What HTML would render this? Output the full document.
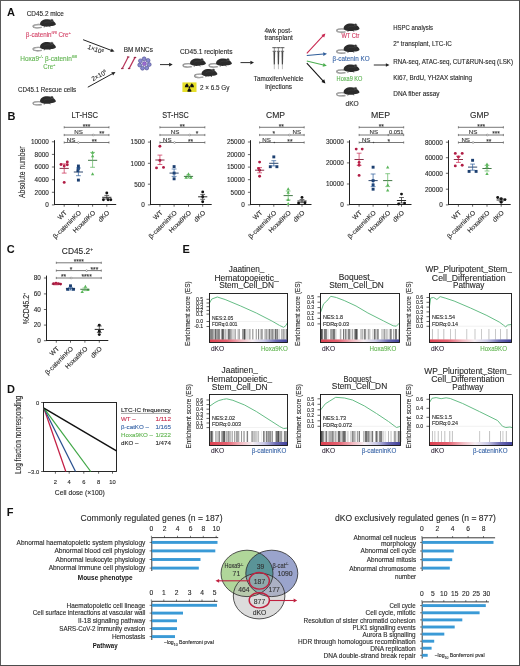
<!DOCTYPE html>
<html><head><meta charset="utf-8"><title>Figure</title><style>html,body{margin:0;padding:0;background:#fff;width:520px;height:666px;overflow:hidden}svg{display:block;will-change:transform}text{font-family:"Liberation Sans",sans-serif}</style></head><body>
<svg width="520" height="666" viewBox="0 0 520 666" font-family="Liberation Sans, sans-serif">
<defs><linearGradient id="gcb" x1="0" x2="1" y1="0" y2="0"><stop offset="0" stop-color="#dc4050"/><stop offset="0.22" stop-color="#e46070"/><stop offset="0.4" stop-color="#f2b8c0"/><stop offset="0.55" stop-color="#f6eef2"/><stop offset="0.7" stop-color="#c8c8e6"/><stop offset="0.85" stop-color="#6c6cb4"/><stop offset="1" stop-color="#40409a"/></linearGradient></defs>
<rect width="520" height="666" fill="#fff"/>
<text x="7" y="15.9" font-size="11" fill="#111" font-weight="bold">A</text>
<text x="26.7" y="15.6" font-size="6.4" fill="#2a2a2a" textLength="37.1" lengthAdjust="spacingAndGlyphs" stroke="#2a2a2a" stroke-width="0.12">CD45.2 mice</text>
<g transform="translate(48.2 23.1) scale(1)">
<path d="M-7.2 1.6 C-11 1.0 -15.6 1.8 -15.1 3.4 C-14.6 4.9 -10 5.1 -6.4 4.3" fill="none" stroke="#777" stroke-width="1.3"/>
<path d="M-7.2 1.6 C-11 1.0 -15.6 1.8 -15.1 3.4 C-14.6 4.9 -10 5.1 -6.4 4.3" fill="none" stroke="#ddd" stroke-width="0.5"/>
<path d="M-8 1.7 C-8.9 -2.3 -4.4 -4.1 -0.6 -3.9 C2.6 -3.8 4.6 -2.9 6 -1.4 C7 -0.4 7.9 0.6 7.7 1.4 C6.6 2.5 4.3 2.8 2.6 3.0 C0.2 3.9 -5 4.1 -8 1.7 Z" fill="#2b2b2b"/>
<ellipse cx="3.7" cy="-2.7" rx="1.35" ry="1.15" fill="#333" stroke="#6a6a6a" stroke-width="0.4"/>
<path d="M-4 0 C-2 -1.5 1 -1.6 3 -0.5" fill="none" stroke="#444" stroke-width="0.5"/>
<path d="M-3.5 3.2 L-4 4.3 M1.5 3.0 L2 4.1" stroke="#2b2b2b" stroke-width="0.8"/>
</g>
<text x="25.8" y="37.0" font-size="6.4" fill="#d5476a" textLength="45.1" lengthAdjust="spacingAndGlyphs" stroke="#d5476a" stroke-width="0.12">&#946;-catenin<tspan font-size="4.2" dy="-3.0">fl/fl</tspan><tspan dy="3.0"> Cre</tspan><tspan font-size="4.2" dy="-3.0">+</tspan></text>
<g transform="translate(48.2 46) scale(1)">
<path d="M-7.2 1.6 C-11 1.0 -15.6 1.8 -15.1 3.4 C-14.6 4.9 -10 5.1 -6.4 4.3" fill="none" stroke="#777" stroke-width="1.3"/>
<path d="M-7.2 1.6 C-11 1.0 -15.6 1.8 -15.1 3.4 C-14.6 4.9 -10 5.1 -6.4 4.3" fill="none" stroke="#ddd" stroke-width="0.5"/>
<path d="M-8 1.7 C-8.9 -2.3 -4.4 -4.1 -0.6 -3.9 C2.6 -3.8 4.6 -2.9 6 -1.4 C7 -0.4 7.9 0.6 7.7 1.4 C6.6 2.5 4.3 2.8 2.6 3.0 C0.2 3.9 -5 4.1 -8 1.7 Z" fill="#2b2b2b"/>
<ellipse cx="3.7" cy="-2.7" rx="1.35" ry="1.15" fill="#333" stroke="#6a6a6a" stroke-width="0.4"/>
<path d="M-4 0 C-2 -1.5 1 -1.6 3 -0.5" fill="none" stroke="#444" stroke-width="0.5"/>
<path d="M-3.5 3.2 L-4 4.3 M1.5 3.0 L2 4.1" stroke="#2b2b2b" stroke-width="0.8"/>
</g>
<text x="20.3" y="60.9" font-size="6.4" fill="#62b552" textLength="56.9" lengthAdjust="spacingAndGlyphs" stroke="#62b552" stroke-width="0.12">Hoxa9<tspan font-size="4.2" dy="-3.0">-/-</tspan><tspan dy="3.0"> &#946;-catenin</tspan><tspan font-size="4.2" dy="-3.0">fl/fl</tspan></text>
<text x="43.3" y="68.6" font-size="6.4" fill="#62b552" textLength="12.1" lengthAdjust="spacingAndGlyphs" stroke="#62b552" stroke-width="0.12">Cre<tspan font-size="4.2" dy="-3.0">+</tspan></text>
<text x="18" y="92.4" font-size="6.4" fill="#2a2a2a" textLength="58.2" lengthAdjust="spacingAndGlyphs" stroke="#2a2a2a" stroke-width="0.12">CD45.1 Rescue cells</text>
<g transform="translate(48.2 100.2) scale(1)">
<path d="M-7.2 1.6 C-11 1.0 -15.6 1.8 -15.1 3.4 C-14.6 4.9 -10 5.1 -6.4 4.3" fill="none" stroke="#777" stroke-width="1.3"/>
<path d="M-7.2 1.6 C-11 1.0 -15.6 1.8 -15.1 3.4 C-14.6 4.9 -10 5.1 -6.4 4.3" fill="none" stroke="#ddd" stroke-width="0.5"/>
<path d="M-8 1.7 C-8.9 -2.3 -4.4 -4.1 -0.6 -3.9 C2.6 -3.8 4.6 -2.9 6 -1.4 C7 -0.4 7.9 0.6 7.7 1.4 C6.6 2.5 4.3 2.8 2.6 3.0 C0.2 3.9 -5 4.1 -8 1.7 Z" fill="#2b2b2b"/>
<ellipse cx="3.7" cy="-2.7" rx="1.35" ry="1.15" fill="#333" stroke="#6a6a6a" stroke-width="0.4"/>
<path d="M-4 0 C-2 -1.5 1 -1.6 3 -0.5" fill="none" stroke="#444" stroke-width="0.5"/>
<path d="M-3.5 3.2 L-4 4.3 M1.5 3.0 L2 4.1" stroke="#2b2b2b" stroke-width="0.8"/>
</g>
<line x1="83.1" y1="39.7" x2="111.23" y2="50.36" stroke="#222" stroke-width="1"/>
<path d="M114.5 51.6L110.27 52.03L111.62 48.48Z" fill="#222"/>
<text x="94.8" y="51.4" font-size="6.3" fill="#2a2a2a" text-anchor="middle" transform="rotate(21 94.8 51.4)" stroke="#2a2a2a" stroke-width="0.12">1&#215;10<tspan font-size="3.8" dy="-2.4">6</tspan></text>
<line x1="87.8" y1="87.2" x2="112.43" y2="73.68" stroke="#222" stroke-width="1"/>
<path d="M115.5 72L113.08 75.49L111.25 72.16Z" fill="#222"/>
<text x="100.2" y="77.4" font-size="6.3" fill="#2a2a2a" text-anchor="middle" transform="rotate(-28.7 100.2 77.4)" stroke="#2a2a2a" stroke-width="0.12">2&#215;10<tspan font-size="3.8" dy="-2.4">6</tspan></text>
<text x="123.7" y="52.1" font-size="6.4" fill="#2a2a2a" textLength="29.3" lengthAdjust="spacingAndGlyphs" stroke="#2a2a2a" stroke-width="0.12">BM MNCs</text>
<line x1="122.3" y1="68.6" x2="128.2" y2="57" stroke="#b8345a" stroke-width="1.2"/>
<circle cx="121.75" cy="68.6" r="0.75" fill="#9a2a4a"/>
<circle cx="122.85" cy="68.6" r="0.75" fill="#9a2a4a"/>
<circle cx="127.65" cy="57" r="0.75" fill="#9a2a4a"/>
<circle cx="128.75" cy="57" r="0.75" fill="#9a2a4a"/>
<line x1="129.1" y1="68.6" x2="135" y2="57.4" stroke="#b8345a" stroke-width="1.2"/>
<circle cx="128.55" cy="68.6" r="0.75" fill="#9a2a4a"/>
<circle cx="129.65" cy="68.6" r="0.75" fill="#9a2a4a"/>
<circle cx="134.45" cy="57.4" r="0.75" fill="#9a2a4a"/>
<circle cx="135.55" cy="57.4" r="0.75" fill="#9a2a4a"/>
<circle cx="149.23" cy="64.55" r="1.95" fill="#8a8ad0" stroke="#4a4a8c" stroke-width="0.6"/>
<circle cx="146.74" cy="68" r="1.95" fill="#8a8ad0" stroke="#4a4a8c" stroke-width="0.6"/>
<circle cx="142.5" cy="68.22" r="1.95" fill="#8a8ad0" stroke="#4a4a8c" stroke-width="0.6"/>
<circle cx="139.68" cy="65.03" r="1.95" fill="#8a8ad0" stroke="#4a4a8c" stroke-width="0.6"/>
<circle cx="140.42" cy="60.84" r="1.95" fill="#8a8ad0" stroke="#4a4a8c" stroke-width="0.6"/>
<circle cx="144.16" cy="58.81" r="1.95" fill="#8a8ad0" stroke="#4a4a8c" stroke-width="0.6"/>
<circle cx="148.07" cy="60.46" r="1.95" fill="#8a8ad0" stroke="#4a4a8c" stroke-width="0.6"/>
<circle cx="144.4" cy="63.7" r="2.1" fill="#9a6ad0" stroke="#5a4a9a" stroke-width="0.5"/>
<line x1="160" y1="64.6" x2="169.4" y2="64.6" stroke="#222" stroke-width="0.95"/>
<path d="M172.7 64.6L169.1 66.4L169.1 62.8Z" fill="#222"/>
<text x="180" y="53.5" font-size="6.4" fill="#2a2a2a" textLength="52.5" lengthAdjust="spacingAndGlyphs" stroke="#2a2a2a" stroke-width="0.12">CD45.1 recipients</text>
<g transform="translate(198.2 62.3) scale(1)">
<path d="M-7.2 1.6 C-11 1.0 -15.6 1.8 -15.1 3.4 C-14.6 4.9 -10 5.1 -6.4 4.3" fill="none" stroke="#777" stroke-width="1.3"/>
<path d="M-7.2 1.6 C-11 1.0 -15.6 1.8 -15.1 3.4 C-14.6 4.9 -10 5.1 -6.4 4.3" fill="none" stroke="#ddd" stroke-width="0.5"/>
<path d="M-8 1.7 C-8.9 -2.3 -4.4 -4.1 -0.6 -3.9 C2.6 -3.8 4.6 -2.9 6 -1.4 C7 -0.4 7.9 0.6 7.7 1.4 C6.6 2.5 4.3 2.8 2.6 3.0 C0.2 3.9 -5 4.1 -8 1.7 Z" fill="#2b2b2b"/>
<ellipse cx="3.7" cy="-2.7" rx="1.35" ry="1.15" fill="#333" stroke="#6a6a6a" stroke-width="0.4"/>
<path d="M-4 0 C-2 -1.5 1 -1.6 3 -0.5" fill="none" stroke="#444" stroke-width="0.5"/>
<path d="M-3.5 3.2 L-4 4.3 M1.5 3.0 L2 4.1" stroke="#2b2b2b" stroke-width="0.8"/>
</g>
<g transform="translate(224.2 62.3) scale(1)">
<path d="M-7.2 1.6 C-11 1.0 -15.6 1.8 -15.1 3.4 C-14.6 4.9 -10 5.1 -6.4 4.3" fill="none" stroke="#777" stroke-width="1.3"/>
<path d="M-7.2 1.6 C-11 1.0 -15.6 1.8 -15.1 3.4 C-14.6 4.9 -10 5.1 -6.4 4.3" fill="none" stroke="#ddd" stroke-width="0.5"/>
<path d="M-8 1.7 C-8.9 -2.3 -4.4 -4.1 -0.6 -3.9 C2.6 -3.8 4.6 -2.9 6 -1.4 C7 -0.4 7.9 0.6 7.7 1.4 C6.6 2.5 4.3 2.8 2.6 3.0 C0.2 3.9 -5 4.1 -8 1.7 Z" fill="#2b2b2b"/>
<ellipse cx="3.7" cy="-2.7" rx="1.35" ry="1.15" fill="#333" stroke="#6a6a6a" stroke-width="0.4"/>
<path d="M-4 0 C-2 -1.5 1 -1.6 3 -0.5" fill="none" stroke="#444" stroke-width="0.5"/>
<path d="M-3.5 3.2 L-4 4.3 M1.5 3.0 L2 4.1" stroke="#2b2b2b" stroke-width="0.8"/>
</g>
<g transform="translate(209.7 72.8) scale(1)">
<path d="M-7.2 1.6 C-11 1.0 -15.6 1.8 -15.1 3.4 C-14.6 4.9 -10 5.1 -6.4 4.3" fill="none" stroke="#777" stroke-width="1.3"/>
<path d="M-7.2 1.6 C-11 1.0 -15.6 1.8 -15.1 3.4 C-14.6 4.9 -10 5.1 -6.4 4.3" fill="none" stroke="#ddd" stroke-width="0.5"/>
<path d="M-8 1.7 C-8.9 -2.3 -4.4 -4.1 -0.6 -3.9 C2.6 -3.8 4.6 -2.9 6 -1.4 C7 -0.4 7.9 0.6 7.7 1.4 C6.6 2.5 4.3 2.8 2.6 3.0 C0.2 3.9 -5 4.1 -8 1.7 Z" fill="#2b2b2b"/>
<ellipse cx="3.7" cy="-2.7" rx="1.35" ry="1.15" fill="#333" stroke="#6a6a6a" stroke-width="0.4"/>
<path d="M-4 0 C-2 -1.5 1 -1.6 3 -0.5" fill="none" stroke="#444" stroke-width="0.5"/>
<path d="M-3.5 3.2 L-4 4.3 M1.5 3.0 L2 4.1" stroke="#2b2b2b" stroke-width="0.8"/>
</g>
<rect x="182.4" y="82.4" width="14.1" height="9.6" fill="#e6df2a"/>
<path d="M190.05 88.33L191.7 91.18A4.6 4.6 0 0 1 187.1 91.18L188.75 88.33Z" fill="#111"/>
<path d="M188.1 87.2L184.8 87.2A4.6 4.6 0 0 1 187.1 83.22L188.75 86.07Z" fill="#111"/>
<path d="M190.05 86.07L191.7 83.22A4.6 4.6 0 0 1 194 87.2L190.7 87.2Z" fill="#111"/>
<circle cx="189.4" cy="87.2" r="0.85" fill="#111"/>
<text x="199.9" y="89.8" font-size="6.4" fill="#2a2a2a" textLength="29.6" lengthAdjust="spacingAndGlyphs" stroke="#2a2a2a" stroke-width="0.12">2 &#215; 6.5 Gy</text>
<line x1="240.5" y1="62.6" x2="250.7" y2="62.6" stroke="#222" stroke-width="0.95"/>
<path d="M254 62.6L250.4 64.4L250.4 60.8Z" fill="#222"/>
<text x="264.5" y="33.4" font-size="6.4" fill="#2a2a2a" textLength="27.6" lengthAdjust="spacingAndGlyphs" stroke="#2a2a2a" stroke-width="0.12">4wk post-</text>
<text x="264.5" y="40.3" font-size="6.4" fill="#2a2a2a" textLength="28.3" lengthAdjust="spacingAndGlyphs" stroke="#2a2a2a" stroke-width="0.12">transplant</text>
<line x1="272.3" y1="47.7" x2="276.3" y2="47.7" stroke="#444" stroke-width="0.9"/>
<line x1="274.3" y1="47.7" x2="274.3" y2="51.2" stroke="#444" stroke-width="0.6"/>
<line x1="272.6" y1="51.3" x2="276" y2="51.3" stroke="#444" stroke-width="0.8"/>
<path d="M273.45 51.6 L275.15 51.6 L274.9 64.5 L273.7 64.5 Z" fill="#4a4a4a"/>
<line x1="274.3" y1="64.5" x2="274.3" y2="69.2" stroke="#777" stroke-width="0.5"/>
<line x1="276.4" y1="47.7" x2="280.4" y2="47.7" stroke="#444" stroke-width="0.9"/>
<line x1="278.4" y1="47.7" x2="278.4" y2="51.2" stroke="#444" stroke-width="0.6"/>
<line x1="276.7" y1="51.3" x2="280.1" y2="51.3" stroke="#444" stroke-width="0.8"/>
<path d="M277.55 51.6 L279.25 51.6 L279 64.5 L277.8 64.5 Z" fill="#4a4a4a"/>
<line x1="278.4" y1="64.5" x2="278.4" y2="69.2" stroke="#777" stroke-width="0.5"/>
<line x1="280.4" y1="47.7" x2="284.4" y2="47.7" stroke="#444" stroke-width="0.9"/>
<line x1="282.4" y1="47.7" x2="282.4" y2="51.2" stroke="#444" stroke-width="0.6"/>
<line x1="280.7" y1="51.3" x2="284.1" y2="51.3" stroke="#444" stroke-width="0.8"/>
<path d="M281.55 51.6 L283.25 51.6 L283 64.5 L281.8 64.5 Z" fill="#4a4a4a"/>
<line x1="282.4" y1="64.5" x2="282.4" y2="69.2" stroke="#777" stroke-width="0.5"/>
<text x="253.8" y="81.4" font-size="6.4" fill="#2a2a2a" textLength="49.8" lengthAdjust="spacingAndGlyphs" stroke="#2a2a2a" stroke-width="0.12">Tamoxifen/vehicle</text>
<text x="265.2" y="88.6" font-size="6.4" fill="#2a2a2a" textLength="26.9" lengthAdjust="spacingAndGlyphs" stroke="#2a2a2a" stroke-width="0.12">injections</text>
<line x1="306.8" y1="53.3" x2="323.01" y2="35.96" stroke="#c8264f" stroke-width="1.05"/>
<path d="M325.4 33.4L324.19 37.47L321.42 34.88Z" fill="#c8264f"/>
<line x1="306.8" y1="55.4" x2="323.51" y2="54.08" stroke="#2f5d9a" stroke-width="1.05"/>
<path d="M327 53.8L323.36 55.99L323.06 52.21Z" fill="#2f5d9a"/>
<line x1="306.8" y1="61.1" x2="323.39" y2="65" stroke="#4caf50" stroke-width="1.05"/>
<path d="M326.8 65.8L322.67 66.78L323.54 63.08Z" fill="#4caf50"/>
<line x1="306.8" y1="63.2" x2="323.03" y2="80.83" stroke="#111" stroke-width="1.05"/>
<path d="M325.4 83.4L321.43 81.89L324.22 79.32Z" fill="#111"/>
<g transform="translate(351.8 27.5) scale(1)">
<path d="M-7.2 1.6 C-11 1.0 -15.6 1.8 -15.1 3.4 C-14.6 4.9 -10 5.1 -6.4 4.3" fill="none" stroke="#777" stroke-width="1.3"/>
<path d="M-7.2 1.6 C-11 1.0 -15.6 1.8 -15.1 3.4 C-14.6 4.9 -10 5.1 -6.4 4.3" fill="none" stroke="#ddd" stroke-width="0.5"/>
<path d="M-8 1.7 C-8.9 -2.3 -4.4 -4.1 -0.6 -3.9 C2.6 -3.8 4.6 -2.9 6 -1.4 C7 -0.4 7.9 0.6 7.7 1.4 C6.6 2.5 4.3 2.8 2.6 3.0 C0.2 3.9 -5 4.1 -8 1.7 Z" fill="#2b2b2b"/>
<ellipse cx="3.7" cy="-2.7" rx="1.35" ry="1.15" fill="#333" stroke="#6a6a6a" stroke-width="0.4"/>
<path d="M-4 0 C-2 -1.5 1 -1.6 3 -0.5" fill="none" stroke="#444" stroke-width="0.5"/>
<path d="M-3.5 3.2 L-4 4.3 M1.5 3.0 L2 4.1" stroke="#2b2b2b" stroke-width="0.8"/>
</g>
<g transform="translate(351.8 48.5) scale(1)">
<path d="M-7.2 1.6 C-11 1.0 -15.6 1.8 -15.1 3.4 C-14.6 4.9 -10 5.1 -6.4 4.3" fill="none" stroke="#777" stroke-width="1.3"/>
<path d="M-7.2 1.6 C-11 1.0 -15.6 1.8 -15.1 3.4 C-14.6 4.9 -10 5.1 -6.4 4.3" fill="none" stroke="#ddd" stroke-width="0.5"/>
<path d="M-8 1.7 C-8.9 -2.3 -4.4 -4.1 -0.6 -3.9 C2.6 -3.8 4.6 -2.9 6 -1.4 C7 -0.4 7.9 0.6 7.7 1.4 C6.6 2.5 4.3 2.8 2.6 3.0 C0.2 3.9 -5 4.1 -8 1.7 Z" fill="#2b2b2b"/>
<ellipse cx="3.7" cy="-2.7" rx="1.35" ry="1.15" fill="#333" stroke="#6a6a6a" stroke-width="0.4"/>
<path d="M-4 0 C-2 -1.5 1 -1.6 3 -0.5" fill="none" stroke="#444" stroke-width="0.5"/>
<path d="M-3.5 3.2 L-4 4.3 M1.5 3.0 L2 4.1" stroke="#2b2b2b" stroke-width="0.8"/>
</g>
<g transform="translate(351.8 68.4) scale(1)">
<path d="M-7.2 1.6 C-11 1.0 -15.6 1.8 -15.1 3.4 C-14.6 4.9 -10 5.1 -6.4 4.3" fill="none" stroke="#777" stroke-width="1.3"/>
<path d="M-7.2 1.6 C-11 1.0 -15.6 1.8 -15.1 3.4 C-14.6 4.9 -10 5.1 -6.4 4.3" fill="none" stroke="#ddd" stroke-width="0.5"/>
<path d="M-8 1.7 C-8.9 -2.3 -4.4 -4.1 -0.6 -3.9 C2.6 -3.8 4.6 -2.9 6 -1.4 C7 -0.4 7.9 0.6 7.7 1.4 C6.6 2.5 4.3 2.8 2.6 3.0 C0.2 3.9 -5 4.1 -8 1.7 Z" fill="#2b2b2b"/>
<ellipse cx="3.7" cy="-2.7" rx="1.35" ry="1.15" fill="#333" stroke="#6a6a6a" stroke-width="0.4"/>
<path d="M-4 0 C-2 -1.5 1 -1.6 3 -0.5" fill="none" stroke="#444" stroke-width="0.5"/>
<path d="M-3.5 3.2 L-4 4.3 M1.5 3.0 L2 4.1" stroke="#2b2b2b" stroke-width="0.8"/>
</g>
<g transform="translate(351.8 91.2) scale(1)">
<path d="M-7.2 1.6 C-11 1.0 -15.6 1.8 -15.1 3.4 C-14.6 4.9 -10 5.1 -6.4 4.3" fill="none" stroke="#777" stroke-width="1.3"/>
<path d="M-7.2 1.6 C-11 1.0 -15.6 1.8 -15.1 3.4 C-14.6 4.9 -10 5.1 -6.4 4.3" fill="none" stroke="#ddd" stroke-width="0.5"/>
<path d="M-8 1.7 C-8.9 -2.3 -4.4 -4.1 -0.6 -3.9 C2.6 -3.8 4.6 -2.9 6 -1.4 C7 -0.4 7.9 0.6 7.7 1.4 C6.6 2.5 4.3 2.8 2.6 3.0 C0.2 3.9 -5 4.1 -8 1.7 Z" fill="#2b2b2b"/>
<ellipse cx="3.7" cy="-2.7" rx="1.35" ry="1.15" fill="#333" stroke="#6a6a6a" stroke-width="0.4"/>
<path d="M-4 0 C-2 -1.5 1 -1.6 3 -0.5" fill="none" stroke="#444" stroke-width="0.5"/>
<path d="M-3.5 3.2 L-4 4.3 M1.5 3.0 L2 4.1" stroke="#2b2b2b" stroke-width="0.8"/>
</g>
<text x="341.4" y="37.9" font-size="6.4" fill="#d03a60" textLength="18" lengthAdjust="spacingAndGlyphs" stroke="#d03a60" stroke-width="0.12">WT Ctr</text>
<text x="332.6" y="60.5" font-size="6.4" fill="#3a66a8" textLength="37" lengthAdjust="spacingAndGlyphs" stroke="#3a66a8" stroke-width="0.12">&#946;-catenin KO</text>
<text x="336.6" y="81.2" font-size="6.4" fill="#5cb352" textLength="25.8" lengthAdjust="spacingAndGlyphs" stroke="#5cb352" stroke-width="0.12">Hoxa9 KO</text>
<text x="345.5" y="105.5" font-size="6.4" fill="#2a2a2a" textLength="13.2" lengthAdjust="spacingAndGlyphs" stroke="#2a2a2a" stroke-width="0.12">dKO</text>
<line x1="373.8" y1="65" x2="386.2" y2="65" stroke="#222" stroke-width="0.95"/>
<path d="M389.5 65L385.9 66.8L385.9 63.2Z" fill="#222"/>
<text x="393.3" y="29.5" font-size="6.4" fill="#2a2a2a" textLength="39.7" lengthAdjust="spacingAndGlyphs" stroke="#2a2a2a" stroke-width="0.12">HSPC analysis</text>
<text x="393.3" y="45.9" font-size="6.4" fill="#2a2a2a" textLength="58.4" lengthAdjust="spacingAndGlyphs" stroke="#2a2a2a" stroke-width="0.12">2<tspan font-size="4.2" dy="-3.0">o</tspan><tspan dy="3.0"> transplant, LTC-IC</tspan></text>
<text x="393.3" y="63.5" font-size="6.4" fill="#2a2a2a" textLength="119.7" lengthAdjust="spacingAndGlyphs" stroke="#2a2a2a" stroke-width="0.12">RNA-seq, ATAC-seq, CUT&amp;RUN-seq (LSK)</text>
<text x="393.3" y="79.6" font-size="6.4" fill="#2a2a2a" textLength="78.7" lengthAdjust="spacingAndGlyphs" stroke="#2a2a2a" stroke-width="0.12">Ki67, BrdU, YH2AX staining</text>
<text x="393.3" y="96" font-size="6.4" fill="#2a2a2a" textLength="46.2" lengthAdjust="spacingAndGlyphs" stroke="#2a2a2a" stroke-width="0.12">DNA fiber assay</text>
<text x="7.4" y="119.6" font-size="11" fill="#111" font-weight="bold">B</text>
<text x="25.5" y="172.2" font-size="8.4" fill="#2a2a2a" text-anchor="middle" textLength="51.5" lengthAdjust="spacingAndGlyphs" transform="rotate(-90 25.5 172.2)" stroke="#2a2a2a" stroke-width="0.12">Absolute number</text>
<line x1="54.5" y1="140.2" x2="54.5" y2="205" stroke="#222" stroke-width="1"/>
<line x1="54" y1="204.5" x2="116.2" y2="204.5" stroke="#222" stroke-width="1"/>
<line x1="51.9" y1="141.8" x2="54.5" y2="141.8" stroke="#222" stroke-width="0.7"/>
<text x="48.8" y="144.1" font-size="6.4" fill="#2a2a2a" text-anchor="end" stroke="#2a2a2a" stroke-width="0.12">10000</text>
<line x1="51.9" y1="154.4" x2="54.5" y2="154.4" stroke="#222" stroke-width="0.7"/>
<text x="48.8" y="156.7" font-size="6.4" fill="#2a2a2a" text-anchor="end" stroke="#2a2a2a" stroke-width="0.12">8000</text>
<line x1="51.9" y1="167" x2="54.5" y2="167" stroke="#222" stroke-width="0.7"/>
<text x="48.8" y="169.3" font-size="6.4" fill="#2a2a2a" text-anchor="end" stroke="#2a2a2a" stroke-width="0.12">6000</text>
<line x1="51.9" y1="179.7" x2="54.5" y2="179.7" stroke="#222" stroke-width="0.7"/>
<text x="48.8" y="182" font-size="6.4" fill="#2a2a2a" text-anchor="end" stroke="#2a2a2a" stroke-width="0.12">4000</text>
<line x1="51.9" y1="192.3" x2="54.5" y2="192.3" stroke="#222" stroke-width="0.7"/>
<text x="48.8" y="194.6" font-size="6.4" fill="#2a2a2a" text-anchor="end" stroke="#2a2a2a" stroke-width="0.12">2000</text>
<line x1="51.9" y1="204.9" x2="54.5" y2="204.9" stroke="#222" stroke-width="0.7"/>
<text x="48.8" y="207.2" font-size="6.4" fill="#2a2a2a" text-anchor="end" stroke="#2a2a2a" stroke-width="0.12">0</text>
<line x1="64.2" y1="204.5" x2="64.2" y2="206.7" stroke="#222" stroke-width="0.7"/>
<line x1="78.4" y1="204.5" x2="78.4" y2="206.7" stroke="#222" stroke-width="0.7"/>
<line x1="92.6" y1="204.5" x2="92.6" y2="206.7" stroke="#222" stroke-width="0.7"/>
<line x1="106.8" y1="204.5" x2="106.8" y2="206.7" stroke="#222" stroke-width="0.7"/>
<text x="67.4" y="213.1" font-size="6.6" fill="#2a2a2a" text-anchor="end" transform="rotate(-45 67.4 213.1)" stroke="#2a2a2a" stroke-width="0.12">WT</text>
<text x="81.6" y="213.1" font-size="6.6" fill="#2a2a2a" text-anchor="end" transform="rotate(-45 81.6 213.1)" stroke="#2a2a2a" stroke-width="0.12">&#946;-cateninKO</text>
<text x="95.8" y="213.1" font-size="6.6" fill="#2a2a2a" text-anchor="end" transform="rotate(-45 95.8 213.1)" stroke="#2a2a2a" stroke-width="0.12">Hoxa9KO</text>
<text x="110" y="213.1" font-size="6.6" fill="#2a2a2a" text-anchor="end" transform="rotate(-45 110 213.1)" stroke="#2a2a2a" stroke-width="0.12">dKO</text>
<text x="84.8" y="118.2" font-size="8.3" fill="#2a2a2a" text-anchor="middle" textLength="26.6" lengthAdjust="spacingAndGlyphs" stroke="#2a2a2a" stroke-width="0.12">LT-HSC</text>
<line x1="64.2" y1="127.3" x2="109" y2="127.3" stroke="#555" stroke-width="0.8"/>
<line x1="64.2" y1="126.2" x2="64.2" y2="128.4" stroke="#444" stroke-width="0.6"/>
<line x1="109" y1="126.2" x2="109" y2="128.4" stroke="#444" stroke-width="0.6"/>
<text x="86.5" y="128.7" font-size="6.6" fill="#333" text-anchor="middle" stroke="#333" stroke-width="0.12">***</text>
<line x1="64.2" y1="135" x2="109" y2="135" stroke="#555" stroke-width="0.8"/>
<line x1="64.2" y1="133.9" x2="64.2" y2="136.1" stroke="#444" stroke-width="0.6"/>
<line x1="109" y1="133.9" x2="109" y2="136.1" stroke="#444" stroke-width="0.6"/>
<text x="78.6" y="134" font-size="6.2" fill="#333" text-anchor="middle" stroke="#333" stroke-width="0.12">NS</text>
<circle cx="93.2" cy="135" r="0.9" fill="#fff" stroke="#555" stroke-width="0.45"/>
<text x="101.8" y="136.4" font-size="6.6" fill="#333" text-anchor="middle" stroke="#333" stroke-width="0.12">**</text>
<line x1="64.2" y1="142.5" x2="109" y2="142.5" stroke="#555" stroke-width="0.8"/>
<line x1="64.2" y1="141.4" x2="64.2" y2="143.6" stroke="#444" stroke-width="0.6"/>
<line x1="109" y1="141.4" x2="109" y2="143.6" stroke="#444" stroke-width="0.6"/>
<text x="71" y="141.5" font-size="6.2" fill="#333" text-anchor="middle" stroke="#333" stroke-width="0.12">NS</text>
<circle cx="78.4" cy="142.5" r="0.9" fill="#fff" stroke="#555" stroke-width="0.45"/>
<text x="94.2" y="143.9" font-size="6.6" fill="#333" text-anchor="middle" stroke="#333" stroke-width="0.12">**</text>
<circle cx="61" cy="164.5" r="1.45" fill="#b01c44"/>
<circle cx="64.2" cy="166" r="1.45" fill="#b01c44"/>
<circle cx="67.3" cy="162" r="1.45" fill="#b01c44"/>
<circle cx="67.3" cy="164.8" r="1.45" fill="#b01c44"/>
<circle cx="64.2" cy="182.4" r="1.45" fill="#b01c44"/>
<line x1="59.6" y1="168.4" x2="68.8" y2="168.4" stroke="#7a1a34" stroke-width="0.9"/>
<line x1="64.2" y1="163.9" x2="64.2" y2="173.1" stroke="#c8264f" stroke-width="0.7"/>
<line x1="61.8" y1="163.9" x2="66.6" y2="163.9" stroke="#c8264f" stroke-width="0.7"/>
<line x1="61.8" y1="173.1" x2="66.6" y2="173.1" stroke="#c8264f" stroke-width="0.7"/>
<rect x="76.95" y="164.55" width="2.9" height="2.9" fill="#1c3f70"/>
<rect x="76.95" y="166.95" width="2.9" height="2.9" fill="#1c3f70"/>
<rect x="76.45" y="169.25" width="2.9" height="2.9" fill="#1c3f70"/>
<rect x="76.95" y="178.65" width="2.9" height="2.9" fill="#1c3f70"/>
<line x1="73.8" y1="172" x2="83" y2="172" stroke="#1a3560" stroke-width="0.9"/>
<line x1="78.4" y1="168" x2="78.4" y2="175.7" stroke="#2a5a98" stroke-width="0.7"/>
<line x1="76" y1="168" x2="80.8" y2="168" stroke="#2a5a98" stroke-width="0.7"/>
<line x1="76" y1="175.7" x2="80.8" y2="175.7" stroke="#2a5a98" stroke-width="0.7"/>
<path d="M92.6 150.73L94.27 153.73L90.93 153.73Z" fill="#5ab55a"/>
<path d="M92.6 154.13L94.27 157.13L90.93 157.13Z" fill="#5ab55a"/>
<path d="M92.6 172.33L94.27 175.33L90.93 175.33Z" fill="#5ab55a"/>
<line x1="88" y1="160.3" x2="97.2" y2="160.3" stroke="#2f6a33" stroke-width="0.9"/>
<line x1="92.6" y1="152.4" x2="92.6" y2="167.3" stroke="#5ab55a" stroke-width="0.7"/>
<line x1="90.2" y1="152.4" x2="95" y2="152.4" stroke="#5ab55a" stroke-width="0.7"/>
<line x1="90.2" y1="167.3" x2="95" y2="167.3" stroke="#5ab55a" stroke-width="0.7"/>
<circle cx="106.8" cy="193" r="1.45" fill="#111"/>
<circle cx="103.4" cy="199.7" r="1.45" fill="#111"/>
<circle cx="108.1" cy="199.7" r="1.45" fill="#111"/>
<circle cx="110.8" cy="199.7" r="1.45" fill="#111"/>
<line x1="102.2" y1="197.3" x2="111.4" y2="197.3" stroke="#111" stroke-width="0.9"/>
<line x1="106.8" y1="195.4" x2="106.8" y2="199" stroke="#222" stroke-width="0.7"/>
<line x1="104.4" y1="195.4" x2="109.2" y2="195.4" stroke="#222" stroke-width="0.7"/>
<line x1="104.4" y1="199" x2="109.2" y2="199" stroke="#222" stroke-width="0.7"/>
<line x1="150.5" y1="140.2" x2="150.5" y2="205" stroke="#222" stroke-width="1"/>
<line x1="150" y1="204.5" x2="211.7" y2="204.5" stroke="#222" stroke-width="1"/>
<line x1="147.9" y1="142.1" x2="150.5" y2="142.1" stroke="#222" stroke-width="0.7"/>
<text x="144.8" y="144.4" font-size="6.4" fill="#2a2a2a" text-anchor="end" stroke="#2a2a2a" stroke-width="0.12">1500</text>
<line x1="147.9" y1="163.3" x2="150.5" y2="163.3" stroke="#222" stroke-width="0.7"/>
<text x="144.8" y="165.6" font-size="6.4" fill="#2a2a2a" text-anchor="end" stroke="#2a2a2a" stroke-width="0.12">1000</text>
<line x1="147.9" y1="184.2" x2="150.5" y2="184.2" stroke="#222" stroke-width="0.7"/>
<text x="144.8" y="186.5" font-size="6.4" fill="#2a2a2a" text-anchor="end" stroke="#2a2a2a" stroke-width="0.12">500</text>
<line x1="147.9" y1="204.9" x2="150.5" y2="204.9" stroke="#222" stroke-width="0.7"/>
<text x="144.8" y="207.2" font-size="6.4" fill="#2a2a2a" text-anchor="end" stroke="#2a2a2a" stroke-width="0.12">0</text>
<line x1="159.9" y1="204.5" x2="159.9" y2="206.7" stroke="#222" stroke-width="0.7"/>
<line x1="174.1" y1="204.5" x2="174.1" y2="206.7" stroke="#222" stroke-width="0.7"/>
<line x1="188.5" y1="204.5" x2="188.5" y2="206.7" stroke="#222" stroke-width="0.7"/>
<line x1="202.7" y1="204.5" x2="202.7" y2="206.7" stroke="#222" stroke-width="0.7"/>
<text x="163.1" y="213.1" font-size="6.6" fill="#2a2a2a" text-anchor="end" transform="rotate(-45 163.1 213.1)" stroke="#2a2a2a" stroke-width="0.12">WT</text>
<text x="177.3" y="213.1" font-size="6.6" fill="#2a2a2a" text-anchor="end" transform="rotate(-45 177.3 213.1)" stroke="#2a2a2a" stroke-width="0.12">&#946;-cateninKO</text>
<text x="191.7" y="213.1" font-size="6.6" fill="#2a2a2a" text-anchor="end" transform="rotate(-45 191.7 213.1)" stroke="#2a2a2a" stroke-width="0.12">Hoxa9KO</text>
<text x="205.9" y="213.1" font-size="6.6" fill="#2a2a2a" text-anchor="end" transform="rotate(-45 205.9 213.1)" stroke="#2a2a2a" stroke-width="0.12">dKO</text>
<text x="175.5" y="118.2" font-size="8.3" fill="#2a2a2a" text-anchor="middle" textLength="26.6" lengthAdjust="spacingAndGlyphs" stroke="#2a2a2a" stroke-width="0.12">ST-HSC</text>
<line x1="159.9" y1="127.3" x2="204.9" y2="127.3" stroke="#555" stroke-width="0.8"/>
<line x1="159.9" y1="126.2" x2="159.9" y2="128.4" stroke="#444" stroke-width="0.6"/>
<line x1="204.9" y1="126.2" x2="204.9" y2="128.4" stroke="#444" stroke-width="0.6"/>
<text x="182.3" y="128.7" font-size="6.6" fill="#333" text-anchor="middle" stroke="#333" stroke-width="0.12">**</text>
<line x1="159.9" y1="135" x2="204.9" y2="135" stroke="#555" stroke-width="0.8"/>
<line x1="159.9" y1="133.9" x2="159.9" y2="136.1" stroke="#444" stroke-width="0.6"/>
<line x1="204.9" y1="133.9" x2="204.9" y2="136.1" stroke="#444" stroke-width="0.6"/>
<text x="175" y="134" font-size="6.2" fill="#333" text-anchor="middle" stroke="#333" stroke-width="0.12">NS</text>
<circle cx="189.7" cy="135" r="0.9" fill="#fff" stroke="#555" stroke-width="0.45"/>
<text x="197" y="136.4" font-size="6.6" fill="#333" text-anchor="middle" stroke="#333" stroke-width="0.12">*</text>
<line x1="159.9" y1="142.5" x2="204.9" y2="142.5" stroke="#555" stroke-width="0.8"/>
<line x1="159.9" y1="141.4" x2="159.9" y2="143.6" stroke="#444" stroke-width="0.6"/>
<line x1="204.9" y1="141.4" x2="204.9" y2="143.6" stroke="#444" stroke-width="0.6"/>
<text x="167.3" y="141.5" font-size="6.2" fill="#333" text-anchor="middle" stroke="#333" stroke-width="0.12">NS</text>
<circle cx="174.5" cy="142.5" r="0.9" fill="#fff" stroke="#555" stroke-width="0.45"/>
<text x="190.5" y="143.9" font-size="6.6" fill="#333" text-anchor="middle" stroke="#333" stroke-width="0.12">**</text>
<circle cx="159.9" cy="146.2" r="1.45" fill="#b01c44"/>
<circle cx="156.5" cy="167.9" r="1.45" fill="#b01c44"/>
<circle cx="163.5" cy="167.4" r="1.45" fill="#b01c44"/>
<circle cx="159.9" cy="160.5" r="1.45" fill="#b01c44"/>
<line x1="155.3" y1="160" x2="164.5" y2="160" stroke="#7a1a34" stroke-width="0.9"/>
<line x1="159.9" y1="155.1" x2="159.9" y2="164.5" stroke="#c8264f" stroke-width="0.7"/>
<line x1="157.5" y1="155.1" x2="162.3" y2="155.1" stroke="#c8264f" stroke-width="0.7"/>
<line x1="157.5" y1="164.5" x2="162.3" y2="164.5" stroke="#c8264f" stroke-width="0.7"/>
<rect x="172.65" y="165.15" width="2.9" height="2.9" fill="#1c3f70"/>
<rect x="172.65" y="171.65" width="2.9" height="2.9" fill="#1c3f70"/>
<rect x="172.65" y="177.35" width="2.9" height="2.9" fill="#1c3f70"/>
<line x1="169.5" y1="173.1" x2="178.7" y2="173.1" stroke="#1a3560" stroke-width="0.9"/>
<line x1="174.1" y1="169" x2="174.1" y2="176.4" stroke="#2a5a98" stroke-width="0.7"/>
<line x1="171.7" y1="169" x2="176.5" y2="169" stroke="#2a5a98" stroke-width="0.7"/>
<line x1="171.7" y1="176.4" x2="176.5" y2="176.4" stroke="#2a5a98" stroke-width="0.7"/>
<path d="M188.5 172.23L190.17 175.23L186.83 175.23Z" fill="#5ab55a"/>
<path d="M186 175.83L187.67 178.83L184.33 178.83Z" fill="#5ab55a"/>
<path d="M191 175.83L192.67 178.83L189.33 178.83Z" fill="#5ab55a"/>
<line x1="183.9" y1="176.4" x2="193.1" y2="176.4" stroke="#2f6a33" stroke-width="0.9"/>
<line x1="188.5" y1="175" x2="188.5" y2="178" stroke="#5ab55a" stroke-width="0.7"/>
<line x1="186.1" y1="175" x2="190.9" y2="175" stroke="#5ab55a" stroke-width="0.7"/>
<line x1="186.1" y1="178" x2="190.9" y2="178" stroke="#5ab55a" stroke-width="0.7"/>
<circle cx="202.7" cy="191.9" r="1.45" fill="#111"/>
<circle cx="202.7" cy="196.8" r="1.45" fill="#111"/>
<circle cx="202.7" cy="201.7" r="1.45" fill="#111"/>
<line x1="198.1" y1="196.8" x2="207.3" y2="196.8" stroke="#111" stroke-width="0.9"/>
<line x1="202.7" y1="194.4" x2="202.7" y2="199.3" stroke="#222" stroke-width="0.7"/>
<line x1="200.3" y1="194.4" x2="205.1" y2="194.4" stroke="#222" stroke-width="0.7"/>
<line x1="200.3" y1="199.3" x2="205.1" y2="199.3" stroke="#222" stroke-width="0.7"/>
<line x1="250.5" y1="140.2" x2="250.5" y2="205" stroke="#222" stroke-width="1"/>
<line x1="250" y1="204.5" x2="311.5" y2="204.5" stroke="#222" stroke-width="1"/>
<line x1="247.9" y1="142" x2="250.5" y2="142" stroke="#222" stroke-width="0.7"/>
<text x="244.8" y="144.3" font-size="6.4" fill="#2a2a2a" text-anchor="end" stroke="#2a2a2a" stroke-width="0.12">25000</text>
<line x1="247.9" y1="154.6" x2="250.5" y2="154.6" stroke="#222" stroke-width="0.7"/>
<text x="244.8" y="156.9" font-size="6.4" fill="#2a2a2a" text-anchor="end" stroke="#2a2a2a" stroke-width="0.12">20000</text>
<line x1="247.9" y1="167.1" x2="250.5" y2="167.1" stroke="#222" stroke-width="0.7"/>
<text x="244.8" y="169.4" font-size="6.4" fill="#2a2a2a" text-anchor="end" stroke="#2a2a2a" stroke-width="0.12">15000</text>
<line x1="247.9" y1="179.7" x2="250.5" y2="179.7" stroke="#222" stroke-width="0.7"/>
<text x="244.8" y="182" font-size="6.4" fill="#2a2a2a" text-anchor="end" stroke="#2a2a2a" stroke-width="0.12">10000</text>
<line x1="247.9" y1="192.3" x2="250.5" y2="192.3" stroke="#222" stroke-width="0.7"/>
<text x="244.8" y="194.6" font-size="6.4" fill="#2a2a2a" text-anchor="end" stroke="#2a2a2a" stroke-width="0.12">5000</text>
<line x1="247.9" y1="204.9" x2="250.5" y2="204.9" stroke="#222" stroke-width="0.7"/>
<text x="244.8" y="207.2" font-size="6.4" fill="#2a2a2a" text-anchor="end" stroke="#2a2a2a" stroke-width="0.12">0</text>
<line x1="259.6" y1="204.5" x2="259.6" y2="206.7" stroke="#222" stroke-width="0.7"/>
<line x1="273.8" y1="204.5" x2="273.8" y2="206.7" stroke="#222" stroke-width="0.7"/>
<line x1="288.2" y1="204.5" x2="288.2" y2="206.7" stroke="#222" stroke-width="0.7"/>
<line x1="302" y1="204.5" x2="302" y2="206.7" stroke="#222" stroke-width="0.7"/>
<text x="262.8" y="213.1" font-size="6.6" fill="#2a2a2a" text-anchor="end" transform="rotate(-45 262.8 213.1)" stroke="#2a2a2a" stroke-width="0.12">WT</text>
<text x="277" y="213.1" font-size="6.6" fill="#2a2a2a" text-anchor="end" transform="rotate(-45 277 213.1)" stroke="#2a2a2a" stroke-width="0.12">&#946;-cateninKO</text>
<text x="291.4" y="213.1" font-size="6.6" fill="#2a2a2a" text-anchor="end" transform="rotate(-45 291.4 213.1)" stroke="#2a2a2a" stroke-width="0.12">Hoxa9KO</text>
<text x="305.2" y="213.1" font-size="6.6" fill="#2a2a2a" text-anchor="end" transform="rotate(-45 305.2 213.1)" stroke="#2a2a2a" stroke-width="0.12">dKO</text>
<text x="275.5" y="118.2" font-size="8.3" fill="#2a2a2a" text-anchor="middle" textLength="19" lengthAdjust="spacingAndGlyphs" stroke="#2a2a2a" stroke-width="0.12">CMP</text>
<line x1="259.6" y1="127.3" x2="304.2" y2="127.3" stroke="#555" stroke-width="0.8"/>
<line x1="259.6" y1="126.2" x2="259.6" y2="128.4" stroke="#444" stroke-width="0.6"/>
<line x1="304.2" y1="126.2" x2="304.2" y2="128.4" stroke="#444" stroke-width="0.6"/>
<text x="281.2" y="128.7" font-size="6.6" fill="#333" text-anchor="middle" stroke="#333" stroke-width="0.12">**</text>
<line x1="259.6" y1="135" x2="304.2" y2="135" stroke="#555" stroke-width="0.8"/>
<line x1="259.6" y1="133.9" x2="259.6" y2="136.1" stroke="#444" stroke-width="0.6"/>
<line x1="304.2" y1="133.9" x2="304.2" y2="136.1" stroke="#444" stroke-width="0.6"/>
<text x="273.8" y="136.4" font-size="6.6" fill="#333" text-anchor="middle" stroke="#333" stroke-width="0.12">*</text>
<circle cx="289.4" cy="135" r="0.9" fill="#fff" stroke="#555" stroke-width="0.45"/>
<text x="296.8" y="134" font-size="6.2" fill="#333" text-anchor="middle" stroke="#333" stroke-width="0.12">NS</text>
<line x1="259.6" y1="142.5" x2="304.2" y2="142.5" stroke="#555" stroke-width="0.8"/>
<line x1="259.6" y1="141.4" x2="259.6" y2="143.6" stroke="#444" stroke-width="0.6"/>
<line x1="304.2" y1="141.4" x2="304.2" y2="143.6" stroke="#444" stroke-width="0.6"/>
<text x="266.5" y="141.5" font-size="6.2" fill="#333" text-anchor="middle" stroke="#333" stroke-width="0.12">NS</text>
<circle cx="274.3" cy="142.5" r="0.8" fill="#444"/>
<text x="289.9" y="143.9" font-size="6.6" fill="#333" text-anchor="middle" stroke="#333" stroke-width="0.12">**</text>
<circle cx="259.6" cy="162.1" r="1.45" fill="#b01c44"/>
<circle cx="259.6" cy="170.2" r="1.45" fill="#b01c44"/>
<circle cx="259.6" cy="176.2" r="1.45" fill="#b01c44"/>
<circle cx="258.6" cy="168.4" r="1.45" fill="#b01c44"/>
<line x1="255" y1="170.2" x2="264.2" y2="170.2" stroke="#7a1a34" stroke-width="0.9"/>
<line x1="259.6" y1="167.6" x2="259.6" y2="172.8" stroke="#c8264f" stroke-width="0.7"/>
<line x1="257.2" y1="167.6" x2="262" y2="167.6" stroke="#c8264f" stroke-width="0.7"/>
<line x1="257.2" y1="172.8" x2="262" y2="172.8" stroke="#c8264f" stroke-width="0.7"/>
<rect x="272.35" y="155.45" width="2.9" height="2.9" fill="#1c3f70"/>
<rect x="268.85" y="165.25" width="2.9" height="2.9" fill="#1c3f70"/>
<rect x="275.45" y="165.25" width="2.9" height="2.9" fill="#1c3f70"/>
<line x1="269.2" y1="163.3" x2="278.4" y2="163.3" stroke="#1a3560" stroke-width="0.9"/>
<line x1="273.8" y1="160.7" x2="273.8" y2="165.9" stroke="#2a5a98" stroke-width="0.7"/>
<line x1="271.4" y1="160.7" x2="276.2" y2="160.7" stroke="#2a5a98" stroke-width="0.7"/>
<line x1="271.4" y1="165.9" x2="276.2" y2="165.9" stroke="#2a5a98" stroke-width="0.7"/>
<path d="M288.2 187.23L289.87 190.23L286.53 190.23Z" fill="#5ab55a"/>
<path d="M288.2 190.63L289.87 193.63L286.53 193.63Z" fill="#5ab55a"/>
<path d="M288.2 197.93L289.87 200.93L286.53 200.93Z" fill="#5ab55a"/>
<path d="M288.2 201.93L289.87 204.93L286.53 204.93Z" fill="#5ab55a"/>
<line x1="283.6" y1="195.6" x2="292.8" y2="195.6" stroke="#2f6a33" stroke-width="0.9"/>
<line x1="288.2" y1="191" x2="288.2" y2="200" stroke="#5ab55a" stroke-width="0.7"/>
<line x1="285.8" y1="191" x2="290.6" y2="191" stroke="#5ab55a" stroke-width="0.7"/>
<line x1="285.8" y1="200" x2="290.6" y2="200" stroke="#5ab55a" stroke-width="0.7"/>
<circle cx="302" cy="197.4" r="1.45" fill="#111"/>
<circle cx="298.6" cy="203.1" r="1.45" fill="#111"/>
<circle cx="305" cy="202.7" r="1.45" fill="#111"/>
<line x1="297.4" y1="201" x2="306.6" y2="201" stroke="#111" stroke-width="0.9"/>
<line x1="302" y1="199.6" x2="302" y2="202.7" stroke="#222" stroke-width="0.7"/>
<line x1="299.6" y1="199.6" x2="304.4" y2="199.6" stroke="#222" stroke-width="0.7"/>
<line x1="299.6" y1="202.7" x2="304.4" y2="202.7" stroke="#222" stroke-width="0.7"/>
<line x1="349.5" y1="140.2" x2="349.5" y2="205" stroke="#222" stroke-width="1"/>
<line x1="349" y1="204.5" x2="411.5" y2="204.5" stroke="#222" stroke-width="1"/>
<line x1="346.9" y1="142" x2="349.5" y2="142" stroke="#222" stroke-width="0.7"/>
<text x="343.8" y="144.3" font-size="6.4" fill="#2a2a2a" text-anchor="end" stroke="#2a2a2a" stroke-width="0.12">30000</text>
<line x1="346.9" y1="162.9" x2="349.5" y2="162.9" stroke="#222" stroke-width="0.7"/>
<text x="343.8" y="165.2" font-size="6.4" fill="#2a2a2a" text-anchor="end" stroke="#2a2a2a" stroke-width="0.12">20000</text>
<line x1="346.9" y1="184" x2="349.5" y2="184" stroke="#222" stroke-width="0.7"/>
<text x="343.8" y="186.3" font-size="6.4" fill="#2a2a2a" text-anchor="end" stroke="#2a2a2a" stroke-width="0.12">10000</text>
<line x1="346.9" y1="204.9" x2="349.5" y2="204.9" stroke="#222" stroke-width="0.7"/>
<text x="343.8" y="207.2" font-size="6.4" fill="#2a2a2a" text-anchor="end" stroke="#2a2a2a" stroke-width="0.12">0</text>
<line x1="359.1" y1="204.5" x2="359.1" y2="206.7" stroke="#222" stroke-width="0.7"/>
<line x1="373.1" y1="204.5" x2="373.1" y2="206.7" stroke="#222" stroke-width="0.7"/>
<line x1="387.7" y1="204.5" x2="387.7" y2="206.7" stroke="#222" stroke-width="0.7"/>
<line x1="401.5" y1="204.5" x2="401.5" y2="206.7" stroke="#222" stroke-width="0.7"/>
<text x="362.3" y="213.1" font-size="6.6" fill="#2a2a2a" text-anchor="end" transform="rotate(-45 362.3 213.1)" stroke="#2a2a2a" stroke-width="0.12">WT</text>
<text x="376.3" y="213.1" font-size="6.6" fill="#2a2a2a" text-anchor="end" transform="rotate(-45 376.3 213.1)" stroke="#2a2a2a" stroke-width="0.12">&#946;-cateninKO</text>
<text x="390.9" y="213.1" font-size="6.6" fill="#2a2a2a" text-anchor="end" transform="rotate(-45 390.9 213.1)" stroke="#2a2a2a" stroke-width="0.12">Hoxa9KO</text>
<text x="404.7" y="213.1" font-size="6.6" fill="#2a2a2a" text-anchor="end" transform="rotate(-45 404.7 213.1)" stroke="#2a2a2a" stroke-width="0.12">dKO</text>
<text x="380.5" y="118.2" font-size="8.3" fill="#2a2a2a" text-anchor="middle" textLength="19" lengthAdjust="spacingAndGlyphs" stroke="#2a2a2a" stroke-width="0.12">MEP</text>
<line x1="359.1" y1="127.3" x2="403.7" y2="127.3" stroke="#555" stroke-width="0.8"/>
<line x1="359.1" y1="126.2" x2="359.1" y2="128.4" stroke="#444" stroke-width="0.6"/>
<line x1="403.7" y1="126.2" x2="403.7" y2="128.4" stroke="#444" stroke-width="0.6"/>
<text x="381.2" y="128.7" font-size="6.6" fill="#333" text-anchor="middle" stroke="#333" stroke-width="0.12">**</text>
<line x1="359.1" y1="135" x2="403.7" y2="135" stroke="#555" stroke-width="0.8"/>
<line x1="359.1" y1="133.9" x2="359.1" y2="136.1" stroke="#444" stroke-width="0.6"/>
<line x1="403.7" y1="133.9" x2="403.7" y2="136.1" stroke="#444" stroke-width="0.6"/>
<text x="373.8" y="134" font-size="6.2" fill="#333" text-anchor="middle" stroke="#333" stroke-width="0.12">NS</text>
<line x1="388.2" y1="133.9" x2="388.2" y2="136.1" stroke="#444" stroke-width="0.6"/>
<text x="396.2" y="134" font-size="6.2" fill="#333" text-anchor="middle" textLength="14.5" lengthAdjust="spacingAndGlyphs" stroke="#333" stroke-width="0.12">0.051</text>
<line x1="359.1" y1="142.5" x2="403.7" y2="142.5" stroke="#555" stroke-width="0.8"/>
<line x1="359.1" y1="141.4" x2="359.1" y2="143.6" stroke="#444" stroke-width="0.6"/>
<line x1="403.7" y1="141.4" x2="403.7" y2="143.6" stroke="#444" stroke-width="0.6"/>
<text x="366.2" y="141.5" font-size="6.2" fill="#333" text-anchor="middle" stroke="#333" stroke-width="0.12">NS</text>
<circle cx="373.5" cy="142.5" r="0.8" fill="#444"/>
<text x="388.7" y="143.9" font-size="6.6" fill="#333" text-anchor="middle" stroke="#333" stroke-width="0.12">*</text>
<circle cx="356.2" cy="149.1" r="1.45" fill="#b01c44"/>
<circle cx="362.2" cy="149.1" r="1.45" fill="#b01c44"/>
<circle cx="359.1" cy="162.4" r="1.45" fill="#b01c44"/>
<circle cx="359.1" cy="165.3" r="1.45" fill="#b01c44"/>
<circle cx="359.1" cy="175.4" r="1.45" fill="#b01c44"/>
<line x1="354.5" y1="159.5" x2="363.7" y2="159.5" stroke="#7a1a34" stroke-width="0.9"/>
<line x1="359.1" y1="153.2" x2="359.1" y2="165.3" stroke="#c8264f" stroke-width="0.7"/>
<line x1="356.7" y1="153.2" x2="361.5" y2="153.2" stroke="#c8264f" stroke-width="0.7"/>
<line x1="356.7" y1="165.3" x2="361.5" y2="165.3" stroke="#c8264f" stroke-width="0.7"/>
<rect x="371.65" y="165.75" width="2.9" height="2.9" fill="#1c3f70"/>
<rect x="371.65" y="179.15" width="2.9" height="2.9" fill="#1c3f70"/>
<rect x="371.65" y="183.45" width="2.9" height="2.9" fill="#1c3f70"/>
<rect x="371.65" y="187.75" width="2.9" height="2.9" fill="#1c3f70"/>
<line x1="368.5" y1="180.6" x2="377.7" y2="180.6" stroke="#1a3560" stroke-width="0.9"/>
<line x1="373.1" y1="174" x2="373.1" y2="186.6" stroke="#2a5a98" stroke-width="0.7"/>
<line x1="370.7" y1="174" x2="375.5" y2="174" stroke="#2a5a98" stroke-width="0.7"/>
<line x1="370.7" y1="186.6" x2="375.5" y2="186.6" stroke="#2a5a98" stroke-width="0.7"/>
<path d="M387.7 165.53L389.37 168.53L386.03 168.53Z" fill="#5ab55a"/>
<path d="M387.7 183.23L389.37 186.23L386.03 186.23Z" fill="#5ab55a"/>
<path d="M387.7 188.43L389.37 191.43L386.03 191.43Z" fill="#5ab55a"/>
<line x1="383.1" y1="180.6" x2="392.3" y2="180.6" stroke="#2f6a33" stroke-width="0.9"/>
<line x1="387.7" y1="173.7" x2="387.7" y2="186.6" stroke="#5ab55a" stroke-width="0.7"/>
<line x1="385.3" y1="173.7" x2="390.1" y2="173.7" stroke="#5ab55a" stroke-width="0.7"/>
<line x1="385.3" y1="186.6" x2="390.1" y2="186.6" stroke="#5ab55a" stroke-width="0.7"/>
<circle cx="401.5" cy="194.1" r="1.45" fill="#111"/>
<circle cx="398.6" cy="204" r="1.45" fill="#111"/>
<circle cx="404.6" cy="203.1" r="1.45" fill="#111"/>
<line x1="396.9" y1="200.5" x2="406.1" y2="200.5" stroke="#111" stroke-width="0.9"/>
<line x1="401.5" y1="197.5" x2="401.5" y2="203" stroke="#222" stroke-width="0.7"/>
<line x1="399.1" y1="197.5" x2="403.9" y2="197.5" stroke="#222" stroke-width="0.7"/>
<line x1="399.1" y1="203" x2="403.9" y2="203" stroke="#222" stroke-width="0.7"/>
<line x1="448.5" y1="140.2" x2="448.5" y2="205" stroke="#222" stroke-width="1"/>
<line x1="448" y1="204.5" x2="510.7" y2="204.5" stroke="#222" stroke-width="1"/>
<line x1="445.9" y1="142.2" x2="448.5" y2="142.2" stroke="#222" stroke-width="0.7"/>
<text x="442.8" y="144.5" font-size="6.4" fill="#2a2a2a" text-anchor="end" stroke="#2a2a2a" stroke-width="0.12">80000</text>
<line x1="445.9" y1="157.7" x2="448.5" y2="157.7" stroke="#222" stroke-width="0.7"/>
<text x="442.8" y="160" font-size="6.4" fill="#2a2a2a" text-anchor="end" stroke="#2a2a2a" stroke-width="0.12">60000</text>
<line x1="445.9" y1="173.3" x2="448.5" y2="173.3" stroke="#222" stroke-width="0.7"/>
<text x="442.8" y="175.6" font-size="6.4" fill="#2a2a2a" text-anchor="end" stroke="#2a2a2a" stroke-width="0.12">40000</text>
<line x1="445.9" y1="189.2" x2="448.5" y2="189.2" stroke="#222" stroke-width="0.7"/>
<text x="442.8" y="191.5" font-size="6.4" fill="#2a2a2a" text-anchor="end" stroke="#2a2a2a" stroke-width="0.12">20000</text>
<line x1="445.9" y1="204.9" x2="448.5" y2="204.9" stroke="#222" stroke-width="0.7"/>
<text x="442.8" y="207.2" font-size="6.4" fill="#2a2a2a" text-anchor="end" stroke="#2a2a2a" stroke-width="0.12">0</text>
<line x1="458.4" y1="204.5" x2="458.4" y2="206.7" stroke="#222" stroke-width="0.7"/>
<line x1="472.6" y1="204.5" x2="472.6" y2="206.7" stroke="#222" stroke-width="0.7"/>
<line x1="487" y1="204.5" x2="487" y2="206.7" stroke="#222" stroke-width="0.7"/>
<line x1="501.2" y1="204.5" x2="501.2" y2="206.7" stroke="#222" stroke-width="0.7"/>
<text x="461.6" y="213.1" font-size="6.6" fill="#2a2a2a" text-anchor="end" transform="rotate(-45 461.6 213.1)" stroke="#2a2a2a" stroke-width="0.12">WT</text>
<text x="475.8" y="213.1" font-size="6.6" fill="#2a2a2a" text-anchor="end" transform="rotate(-45 475.8 213.1)" stroke="#2a2a2a" stroke-width="0.12">&#946;-cateninKO</text>
<text x="490.2" y="213.1" font-size="6.6" fill="#2a2a2a" text-anchor="end" transform="rotate(-45 490.2 213.1)" stroke="#2a2a2a" stroke-width="0.12">Hoxa9KO</text>
<text x="504.4" y="213.1" font-size="6.6" fill="#2a2a2a" text-anchor="end" transform="rotate(-45 504.4 213.1)" stroke="#2a2a2a" stroke-width="0.12">dKO</text>
<text x="479.5" y="118.2" font-size="8.3" fill="#2a2a2a" text-anchor="middle" textLength="19" lengthAdjust="spacingAndGlyphs" stroke="#2a2a2a" stroke-width="0.12">GMP</text>
<line x1="458.4" y1="127.3" x2="503.4" y2="127.3" stroke="#555" stroke-width="0.8"/>
<line x1="458.4" y1="126.2" x2="458.4" y2="128.4" stroke="#444" stroke-width="0.6"/>
<line x1="503.4" y1="126.2" x2="503.4" y2="128.4" stroke="#444" stroke-width="0.6"/>
<text x="481.2" y="128.7" font-size="6.6" fill="#333" text-anchor="middle" stroke="#333" stroke-width="0.12">***</text>
<line x1="458.4" y1="135" x2="503.4" y2="135" stroke="#555" stroke-width="0.8"/>
<line x1="458.4" y1="133.9" x2="458.4" y2="136.1" stroke="#444" stroke-width="0.6"/>
<line x1="503.4" y1="133.9" x2="503.4" y2="136.1" stroke="#444" stroke-width="0.6"/>
<text x="473.1" y="134" font-size="6.2" fill="#333" text-anchor="middle" stroke="#333" stroke-width="0.12">NS</text>
<circle cx="487.3" cy="135" r="0.9" fill="#fff" stroke="#555" stroke-width="0.45"/>
<text x="496" y="136.4" font-size="6.6" fill="#333" text-anchor="middle" stroke="#333" stroke-width="0.12">***</text>
<line x1="458.4" y1="142.5" x2="503.4" y2="142.5" stroke="#555" stroke-width="0.8"/>
<line x1="458.4" y1="141.4" x2="458.4" y2="143.6" stroke="#444" stroke-width="0.6"/>
<line x1="503.4" y1="141.4" x2="503.4" y2="143.6" stroke="#444" stroke-width="0.6"/>
<text x="465.7" y="141.5" font-size="6.2" fill="#333" text-anchor="middle" stroke="#333" stroke-width="0.12">NS</text>
<circle cx="473.1" cy="142.5" r="0.9" fill="#fff" stroke="#555" stroke-width="0.45"/>
<text x="488.7" y="143.9" font-size="6.6" fill="#333" text-anchor="middle" stroke="#333" stroke-width="0.12">**</text>
<circle cx="455.3" cy="153.4" r="1.45" fill="#b01c44"/>
<circle cx="462.2" cy="153.4" r="1.45" fill="#b01c44"/>
<circle cx="455.3" cy="165.9" r="1.45" fill="#b01c44"/>
<circle cx="462.2" cy="165.3" r="1.45" fill="#b01c44"/>
<circle cx="458.4" cy="157" r="1.45" fill="#b01c44"/>
<line x1="453.8" y1="159.5" x2="463" y2="159.5" stroke="#7a1a34" stroke-width="0.9"/>
<line x1="458.4" y1="156.3" x2="458.4" y2="162.4" stroke="#c8264f" stroke-width="0.7"/>
<line x1="456" y1="156.3" x2="460.8" y2="156.3" stroke="#c8264f" stroke-width="0.7"/>
<line x1="456" y1="162.4" x2="460.8" y2="162.4" stroke="#c8264f" stroke-width="0.7"/>
<rect x="471.15" y="158.85" width="2.9" height="2.9" fill="#1c3f70"/>
<rect x="467.65" y="169.95" width="2.9" height="2.9" fill="#1c3f70"/>
<rect x="474.65" y="169.95" width="2.9" height="2.9" fill="#1c3f70"/>
<line x1="468" y1="167.1" x2="477.2" y2="167.1" stroke="#1a3560" stroke-width="0.9"/>
<line x1="472.6" y1="164.1" x2="472.6" y2="170.2" stroke="#2a5a98" stroke-width="0.7"/>
<line x1="470.2" y1="164.1" x2="475" y2="164.1" stroke="#2a5a98" stroke-width="0.7"/>
<line x1="470.2" y1="170.2" x2="475" y2="170.2" stroke="#2a5a98" stroke-width="0.7"/>
<path d="M487 162.43L488.67 165.43L485.33 165.43Z" fill="#5ab55a"/>
<path d="M487 164.73L488.67 167.73L485.33 167.73Z" fill="#5ab55a"/>
<path d="M487 172.03L488.67 175.03L485.33 175.03Z" fill="#5ab55a"/>
<line x1="482.4" y1="168.5" x2="491.6" y2="168.5" stroke="#2f6a33" stroke-width="0.9"/>
<line x1="487" y1="165.3" x2="487" y2="171" stroke="#5ab55a" stroke-width="0.7"/>
<line x1="484.6" y1="165.3" x2="489.4" y2="165.3" stroke="#5ab55a" stroke-width="0.7"/>
<line x1="484.6" y1="171" x2="489.4" y2="171" stroke="#5ab55a" stroke-width="0.7"/>
<circle cx="497.7" cy="197.5" r="1.45" fill="#111"/>
<circle cx="501.2" cy="198.7" r="1.45" fill="#111"/>
<circle cx="505" cy="199.6" r="1.45" fill="#111"/>
<circle cx="501.2" cy="202.2" r="1.45" fill="#111"/>
<line x1="496.6" y1="200" x2="505.8" y2="200" stroke="#111" stroke-width="0.9"/>
<line x1="501.2" y1="198.7" x2="501.2" y2="201.3" stroke="#222" stroke-width="0.7"/>
<line x1="498.8" y1="198.7" x2="503.6" y2="198.7" stroke="#222" stroke-width="0.7"/>
<line x1="498.8" y1="201.3" x2="503.6" y2="201.3" stroke="#222" stroke-width="0.7"/>
<text x="6.7" y="253.2" font-size="11" fill="#111" font-weight="bold">C</text>
<text x="29.0" y="308.5" font-size="8.8" fill="#2a2a2a" text-anchor="middle" textLength="31.5" lengthAdjust="spacingAndGlyphs" transform="rotate(-90 29.0 308.5)" stroke="#2a2a2a" stroke-width="0.12">%CD45.2<tspan font-size="5" dy="-3.4">+</tspan></text>
<text x="77.5" y="254.2" font-size="8.4" fill="#2a2a2a" text-anchor="middle" stroke="#2a2a2a" stroke-width="0.12">CD45.2<tspan font-size="5" dy="-3.2">+</tspan></text>
<line x1="46.5" y1="275.6" x2="46.5" y2="341" stroke="#222" stroke-width="1"/>
<line x1="46" y1="340.5" x2="108.3" y2="340.5" stroke="#222" stroke-width="1"/>
<line x1="43.9" y1="278" x2="46.5" y2="278" stroke="#222" stroke-width="0.7"/>
<text x="40.8" y="280.3" font-size="6.4" fill="#2a2a2a" text-anchor="end" stroke="#2a2a2a" stroke-width="0.12">80</text>
<line x1="43.9" y1="293.9" x2="46.5" y2="293.9" stroke="#222" stroke-width="0.7"/>
<text x="40.8" y="296.2" font-size="6.4" fill="#2a2a2a" text-anchor="end" stroke="#2a2a2a" stroke-width="0.12">60</text>
<line x1="43.9" y1="309.5" x2="46.5" y2="309.5" stroke="#222" stroke-width="0.7"/>
<text x="40.8" y="311.8" font-size="6.4" fill="#2a2a2a" text-anchor="end" stroke="#2a2a2a" stroke-width="0.12">40</text>
<line x1="43.9" y1="325.1" x2="46.5" y2="325.1" stroke="#222" stroke-width="0.7"/>
<text x="40.8" y="327.4" font-size="6.4" fill="#2a2a2a" text-anchor="end" stroke="#2a2a2a" stroke-width="0.12">20</text>
<line x1="43.9" y1="340.7" x2="46.5" y2="340.7" stroke="#222" stroke-width="0.7"/>
<text x="40.8" y="343" font-size="6.4" fill="#2a2a2a" text-anchor="end" stroke="#2a2a2a" stroke-width="0.12">0</text>
<line x1="56.3" y1="340.5" x2="56.3" y2="342.7" stroke="#222" stroke-width="0.7"/>
<line x1="70.5" y1="340.5" x2="70.5" y2="342.7" stroke="#222" stroke-width="0.7"/>
<line x1="84.9" y1="340.5" x2="84.9" y2="342.7" stroke="#222" stroke-width="0.7"/>
<line x1="99.3" y1="340.5" x2="99.3" y2="342.7" stroke="#222" stroke-width="0.7"/>
<text x="59.5" y="349.1" font-size="6.6" fill="#2a2a2a" text-anchor="end" transform="rotate(-45 59.5 349.1)" stroke="#2a2a2a" stroke-width="0.12">WT</text>
<text x="73.7" y="349.1" font-size="6.6" fill="#2a2a2a" text-anchor="end" transform="rotate(-45 73.7 349.1)" stroke="#2a2a2a" stroke-width="0.12">&#946;-cateninKO</text>
<text x="88.1" y="349.1" font-size="6.6" fill="#2a2a2a" text-anchor="end" transform="rotate(-45 88.1 349.1)" stroke="#2a2a2a" stroke-width="0.12">Hoxa9KO</text>
<text x="102.5" y="349.1" font-size="6.6" fill="#2a2a2a" text-anchor="end" transform="rotate(-45 102.5 349.1)" stroke="#2a2a2a" stroke-width="0.12">dKO</text>
<line x1="56.3" y1="262.8" x2="101.3" y2="262.8" stroke="#555" stroke-width="0.8"/>
<line x1="56.3" y1="261.7" x2="56.3" y2="263.9" stroke="#444" stroke-width="0.6"/>
<line x1="101.3" y1="261.7" x2="101.3" y2="263.9" stroke="#444" stroke-width="0.6"/>
<text x="78.8" y="264.2" font-size="6.6" fill="#333" text-anchor="middle" stroke="#333" stroke-width="0.12">****</text>
<line x1="56.3" y1="270.6" x2="101.3" y2="270.6" stroke="#555" stroke-width="0.8"/>
<line x1="56.3" y1="269.5" x2="56.3" y2="271.7" stroke="#444" stroke-width="0.6"/>
<line x1="101.3" y1="269.5" x2="101.3" y2="271.7" stroke="#444" stroke-width="0.6"/>
<text x="71.1" y="272" font-size="6.6" fill="#333" text-anchor="middle" stroke="#333" stroke-width="0.12">*</text>
<circle cx="86.6" cy="270.6" r="0.9" fill="#fff" stroke="#555" stroke-width="0.45"/>
<text x="94.4" y="272" font-size="6.6" fill="#333" text-anchor="middle" stroke="#333" stroke-width="0.12">***</text>
<line x1="56.3" y1="278" x2="101.3" y2="278" stroke="#555" stroke-width="0.8"/>
<line x1="56.3" y1="276.9" x2="56.3" y2="279.1" stroke="#444" stroke-width="0.6"/>
<line x1="101.3" y1="276.9" x2="101.3" y2="279.1" stroke="#444" stroke-width="0.6"/>
<text x="63.6" y="279.4" font-size="6.6" fill="#333" text-anchor="middle" stroke="#333" stroke-width="0.12">**</text>
<circle cx="71.1" cy="278" r="0.9" fill="#fff" stroke="#555" stroke-width="0.45"/>
<text x="86.6" y="279.4" font-size="6.6" fill="#333" text-anchor="middle" stroke="#333" stroke-width="0.12">****</text>
<circle cx="53.6" cy="283.8" r="1.45" fill="#b01c44"/>
<circle cx="56" cy="283.2" r="1.45" fill="#b01c44"/>
<circle cx="58.4" cy="283.6" r="1.45" fill="#b01c44"/>
<circle cx="60.6" cy="284.1" r="1.45" fill="#b01c44"/>
<line x1="51.7" y1="284.1" x2="60.9" y2="284.1" stroke="#7a1a34" stroke-width="0.9"/>
<line x1="56.3" y1="283.4" x2="56.3" y2="284.8" stroke="#c8264f" stroke-width="0.7"/>
<line x1="53.9" y1="283.4" x2="58.7" y2="283.4" stroke="#c8264f" stroke-width="0.7"/>
<line x1="53.9" y1="284.8" x2="58.7" y2="284.8" stroke="#c8264f" stroke-width="0.7"/>
<rect x="69.05" y="284.35" width="2.9" height="2.9" fill="#1c3f70"/>
<rect x="66.15" y="287.85" width="2.9" height="2.9" fill="#1c3f70"/>
<rect x="72.05" y="287.85" width="2.9" height="2.9" fill="#1c3f70"/>
<line x1="65.9" y1="288.7" x2="75.1" y2="288.7" stroke="#1a3560" stroke-width="0.9"/>
<line x1="70.5" y1="287.4" x2="70.5" y2="290" stroke="#2a5a98" stroke-width="0.7"/>
<line x1="68.1" y1="287.4" x2="72.9" y2="287.4" stroke="#2a5a98" stroke-width="0.7"/>
<line x1="68.1" y1="290" x2="72.9" y2="290" stroke="#2a5a98" stroke-width="0.7"/>
<path d="M85.4 284.83L87.07 287.83L83.73 287.83Z" fill="#5ab55a"/>
<path d="M82.2 289.93L83.87 292.93L80.53 292.93Z" fill="#5ab55a"/>
<path d="M88 287.93L89.67 290.93L86.33 290.93Z" fill="#5ab55a"/>
<line x1="80.3" y1="289.3" x2="89.5" y2="289.3" stroke="#2f6a33" stroke-width="0.9"/>
<line x1="84.9" y1="288" x2="84.9" y2="290.6" stroke="#5ab55a" stroke-width="0.7"/>
<line x1="82.5" y1="288" x2="87.3" y2="288" stroke="#5ab55a" stroke-width="0.7"/>
<line x1="82.5" y1="290.6" x2="87.3" y2="290.6" stroke="#5ab55a" stroke-width="0.7"/>
<circle cx="99.3" cy="325.1" r="1.45" fill="#111"/>
<circle cx="99.3" cy="331.2" r="1.45" fill="#111"/>
<circle cx="99.3" cy="334.6" r="1.45" fill="#111"/>
<line x1="94.7" y1="329.4" x2="103.9" y2="329.4" stroke="#111" stroke-width="0.9"/>
<line x1="99.3" y1="326" x2="99.3" y2="332.6" stroke="#222" stroke-width="0.7"/>
<line x1="96.9" y1="326" x2="101.7" y2="326" stroke="#222" stroke-width="0.7"/>
<line x1="96.9" y1="332.6" x2="101.7" y2="332.6" stroke="#222" stroke-width="0.7"/>
<text x="7" y="393.2" font-size="11" fill="#111" font-weight="bold">D</text>
<rect x="43.5" y="402.5" width="73" height="69" fill="none" stroke="#111" stroke-width="0.9"/>
<line x1="41.1" y1="402.5" x2="43.5" y2="402.5" stroke="#222" stroke-width="0.7"/>
<line x1="41.1" y1="471.5" x2="43.5" y2="471.5" stroke="#222" stroke-width="0.7"/>
<text x="39.2" y="404.6" font-size="5.8" fill="#2a2a2a" text-anchor="end" stroke="#2a2a2a" stroke-width="0.12">0</text>
<text x="39.2" y="473.6" font-size="5.8" fill="#2a2a2a" text-anchor="end" stroke="#2a2a2a" stroke-width="0.12">&#8722;3.0</text>
<line x1="55.4" y1="471.5" x2="55.4" y2="473.7" stroke="#222" stroke-width="0.7"/>
<text x="55.4" y="483.8" font-size="5.8" fill="#2a2a2a" text-anchor="middle" stroke="#2a2a2a" stroke-width="0.12">2</text>
<line x1="69.2" y1="471.5" x2="69.2" y2="473.7" stroke="#222" stroke-width="0.7"/>
<text x="69.2" y="483.8" font-size="5.8" fill="#2a2a2a" text-anchor="middle" stroke="#2a2a2a" stroke-width="0.12">4</text>
<line x1="83.8" y1="471.5" x2="83.8" y2="473.7" stroke="#222" stroke-width="0.7"/>
<text x="83.8" y="483.8" font-size="5.8" fill="#2a2a2a" text-anchor="middle" stroke="#2a2a2a" stroke-width="0.12">6</text>
<line x1="98.6" y1="471.5" x2="98.6" y2="473.7" stroke="#222" stroke-width="0.7"/>
<text x="98.6" y="483.8" font-size="5.8" fill="#2a2a2a" text-anchor="middle" stroke="#2a2a2a" stroke-width="0.12">8</text>
<line x1="112.5" y1="471.5" x2="112.5" y2="473.7" stroke="#222" stroke-width="0.7"/>
<text x="112.5" y="483.8" font-size="5.8" fill="#2a2a2a" text-anchor="middle" stroke="#2a2a2a" stroke-width="0.12">10</text>
<text x="79.8" y="494.8" font-size="7.5" fill="#2a2a2a" text-anchor="middle" textLength="50" lengthAdjust="spacingAndGlyphs" stroke="#2a2a2a" stroke-width="0.12">Cell dose (&#215;100)</text>
<text x="20.6" y="434.9" font-size="8.2" fill="#2a2a2a" text-anchor="middle" textLength="78" lengthAdjust="spacingAndGlyphs" transform="rotate(-90 20.6 434.9)" stroke="#2a2a2a" stroke-width="0.12">Log fraction nonresponding</text>
<line x1="43.9" y1="408.2" x2="65.8" y2="471.5" stroke="#c41f45" stroke-width="1.25"/>
<line x1="43.9" y1="408.2" x2="75.5" y2="471.5" stroke="#2a5190" stroke-width="1.25"/>
<line x1="43.9" y1="408.2" x2="90.7" y2="471.5" stroke="#3fa645" stroke-width="1.25"/>
<line x1="43.9" y1="408.2" x2="116.5" y2="450.8" stroke="#111" stroke-width="1.45"/>
<text x="121" y="412.2" font-size="6" fill="#2a2a2a" textLength="49.8" lengthAdjust="spacingAndGlyphs" stroke="#2a2a2a" stroke-width="0.12">LTC-IC frequency</text>
<line x1="121" y1="413.4" x2="170.8" y2="413.4" stroke="#333" stroke-width="0.45"/>
<text x="121" y="421.2" font-size="6.2" fill="#c8304f" stroke="#c8304f" stroke-width="0.12">WT &#8211;</text>
<text x="171" y="421.2" font-size="6.2" fill="#c8304f" text-anchor="end" textLength="15.6" lengthAdjust="spacingAndGlyphs" stroke="#c8304f" stroke-width="0.12">1/112</text>
<text x="121" y="429.2" font-size="6.2" fill="#3a66a8" stroke="#3a66a8" stroke-width="0.12">&#946;-catKO &#8211;</text>
<text x="171" y="429.2" font-size="6.2" fill="#3a66a8" text-anchor="end" textLength="15.6" lengthAdjust="spacingAndGlyphs" stroke="#3a66a8" stroke-width="0.12">1/165</text>
<text x="121" y="436.9" font-size="6.2" fill="#62b552" stroke="#62b552" stroke-width="0.12">Hoxa9KO &#8211;</text>
<text x="171" y="436.9" font-size="6.2" fill="#62b552" text-anchor="end" textLength="15.6" lengthAdjust="spacingAndGlyphs" stroke="#62b552" stroke-width="0.12">1/222</text>
<text x="121" y="444.6" font-size="6.2" fill="#2a2a2a" stroke="#2a2a2a" stroke-width="0.12">dKO &#8211;</text>
<text x="171" y="444.6" font-size="6.2" fill="#2a2a2a" text-anchor="end" textLength="15.6" lengthAdjust="spacingAndGlyphs" stroke="#2a2a2a" stroke-width="0.12">1/474</text>
<text x="182.6" y="253.2" font-size="11" fill="#111" font-weight="bold">E</text>
<text x="246.6" y="271.8" font-size="8.7" fill="#2a2a2a" text-anchor="middle" textLength="35.6" lengthAdjust="spacingAndGlyphs" stroke="#2a2a2a" stroke-width="0.12">Jaatinen<tspan dy="-1.1">_</tspan><tspan dy="1.1">​</tspan></text>
<text x="246.6" y="280.8" font-size="8.7" fill="#2a2a2a" text-anchor="middle" textLength="64.4" lengthAdjust="spacingAndGlyphs" stroke="#2a2a2a" stroke-width="0.12">Hematopoeietic<tspan dy="-1.1">_</tspan><tspan dy="1.1">​</tspan></text>
<text x="246.6" y="288.1" font-size="8.7" fill="#2a2a2a" text-anchor="middle" textLength="54.8" lengthAdjust="spacingAndGlyphs" stroke="#2a2a2a" stroke-width="0.12">Stem<tspan dy="-1.1">_</tspan><tspan dy="1.1">​</tspan>Cell<tspan dy="-1.1">_</tspan><tspan dy="1.1">​</tspan>DN</text>
<text x="190.3" y="313.7" font-size="7.8" fill="#2a2a2a" text-anchor="middle" textLength="64.5" lengthAdjust="spacingAndGlyphs" transform="rotate(-90 190.3 313.7)" stroke="#2a2a2a" stroke-width="0.12">Enrichment score (ES)</text>
<rect x="209.5" y="339.4" width="78" height="3.1" fill="url(#gcb)"/>
<rect x="216.52" y="329" width="0.8" height="10.4" fill="#222" fill-opacity="0.46"/>
<rect x="265.95" y="329" width="0.8" height="10.4" fill="#222" fill-opacity="0.21"/>
<rect x="243.08" y="329" width="0.8" height="10.4" fill="#222" fill-opacity="0.29"/>
<rect x="256.15" y="329" width="0.8" height="10.4" fill="#222" fill-opacity="0.43"/>
<rect x="214.06" y="329" width="0.8" height="10.4" fill="#222" fill-opacity="0.11"/>
<rect x="272.39" y="329" width="0.8" height="10.4" fill="#222" fill-opacity="0.28"/>
<rect x="265.82" y="329" width="0.8" height="10.4" fill="#222" fill-opacity="0.1"/>
<rect x="239.05" y="329" width="0.8" height="10.4" fill="#222" fill-opacity="0.4"/>
<rect x="222.78" y="329" width="0.8" height="10.4" fill="#222" fill-opacity="0.5"/>
<rect x="278.37" y="329" width="0.8" height="10.4" fill="#222" fill-opacity="0.11"/>
<rect x="210.45" y="329" width="0.8" height="10.4" fill="#222" fill-opacity="0.33"/>
<rect x="281.84" y="329" width="0.8" height="10.4" fill="#222" fill-opacity="0.26"/>
<rect x="221.94" y="329" width="0.8" height="10.4" fill="#222" fill-opacity="0.28"/>
<rect x="210.62" y="329" width="0.8" height="10.4" fill="#222" fill-opacity="0.19"/>
<rect x="238.46" y="329" width="0.8" height="10.4" fill="#222" fill-opacity="0.31"/>
<rect x="223.09" y="329" width="0.8" height="10.4" fill="#222" fill-opacity="0.2"/>
<rect x="222.09" y="329" width="0.8" height="10.4" fill="#222" fill-opacity="0.29"/>
<rect x="227.14" y="329" width="0.8" height="10.4" fill="#222" fill-opacity="0.11"/>
<rect x="272.56" y="329" width="0.8" height="10.4" fill="#222" fill-opacity="0.33"/>
<rect x="255.35" y="329" width="0.8" height="10.4" fill="#222" fill-opacity="0.18"/>
<rect x="286.8" y="329" width="0.8" height="10.4" fill="#222" fill-opacity="0.46"/>
<rect x="215.68" y="329" width="0.8" height="10.4" fill="#222" fill-opacity="0.24"/>
<rect x="262.22" y="329" width="0.8" height="10.4" fill="#222" fill-opacity="0.4"/>
<rect x="281.59" y="329" width="0.8" height="10.4" fill="#222" fill-opacity="0.28"/>
<rect x="271.88" y="329" width="0.8" height="10.4" fill="#222" fill-opacity="0.38"/>
<rect x="228.14" y="329" width="0.8" height="10.4" fill="#222" fill-opacity="0.35"/>
<rect x="276.63" y="329" width="0.8" height="10.4" fill="#222" fill-opacity="0.46"/>
<rect x="243.88" y="329" width="0.8" height="10.4" fill="#222" fill-opacity="0.35"/>
<rect x="210.87" y="329" width="0.8" height="10.4" fill="#222" fill-opacity="0.2"/>
<rect x="268.94" y="329" width="0.8" height="10.4" fill="#222" fill-opacity="0.27"/>
<rect x="219" y="329" width="0.8" height="10.4" fill="#222" fill-opacity="0.33"/>
<rect x="260.61" y="329" width="0.8" height="10.4" fill="#222" fill-opacity="0.38"/>
<rect x="233.52" y="329" width="0.8" height="10.4" fill="#222" fill-opacity="0.28"/>
<rect x="244.14" y="329" width="0.8" height="10.4" fill="#222" fill-opacity="0.43"/>
<rect x="245.16" y="329" width="0.8" height="10.4" fill="#222" fill-opacity="0.27"/>
<rect x="242.61" y="329" width="0.8" height="10.4" fill="#222" fill-opacity="0.11"/>
<rect x="211.31" y="329" width="0.8" height="10.4" fill="#222" fill-opacity="0.4"/>
<rect x="285.93" y="329" width="0.8" height="10.4" fill="#222" fill-opacity="0.35"/>
<rect x="234.98" y="329" width="0.8" height="10.4" fill="#222" fill-opacity="0.17"/>
<rect x="243.63" y="329" width="0.8" height="10.4" fill="#222" fill-opacity="0.51"/>
<rect x="266.55" y="329" width="0.8" height="10.4" fill="#222" fill-opacity="0.33"/>
<rect x="274.61" y="329" width="0.8" height="10.4" fill="#222" fill-opacity="0.2"/>
<rect x="244.58" y="329" width="0.8" height="10.4" fill="#222" fill-opacity="0.5"/>
<rect x="249.89" y="329" width="0.8" height="10.4" fill="#222" fill-opacity="0.29"/>
<rect x="225.66" y="329" width="0.8" height="10.4" fill="#222" fill-opacity="0.33"/>
<rect x="283.5" y="329" width="0.8" height="10.4" fill="#222" fill-opacity="0.1"/>
<rect x="267.72" y="329" width="0.8" height="10.4" fill="#222" fill-opacity="0.44"/>
<rect x="276.97" y="329" width="0.8" height="10.4" fill="#222" fill-opacity="0.41"/>
<rect x="270" y="329" width="0.8" height="10.4" fill="#222" fill-opacity="0.32"/>
<rect x="248.51" y="329" width="0.8" height="10.4" fill="#222" fill-opacity="0.28"/>
<rect x="211.96" y="329" width="0.8" height="10.4" fill="#222" fill-opacity="0.47"/>
<rect x="249.23" y="329" width="0.8" height="10.4" fill="#222" fill-opacity="0.18"/>
<rect x="243.84" y="329" width="0.8" height="10.4" fill="#222" fill-opacity="0.3"/>
<rect x="232.15" y="329" width="0.8" height="10.4" fill="#222" fill-opacity="0.25"/>
<rect x="246.61" y="329" width="0.8" height="10.4" fill="#222" fill-opacity="0.36"/>
<rect x="252.81" y="329" width="0.8" height="10.4" fill="#222" fill-opacity="0.29"/>
<rect x="210.57" y="329" width="0.8" height="10.4" fill="#222" fill-opacity="0.2"/>
<rect x="219.28" y="329" width="0.8" height="10.4" fill="#222" fill-opacity="0.35"/>
<rect x="274.68" y="329" width="0.8" height="10.4" fill="#222" fill-opacity="0.44"/>
<rect x="268.92" y="329" width="0.8" height="10.4" fill="#222" fill-opacity="0.44"/>
<rect x="224.65" y="329" width="0.8" height="10.4" fill="#222" fill-opacity="0.45"/>
<rect x="258.01" y="329" width="0.8" height="10.4" fill="#222" fill-opacity="0.13"/>
<rect x="210.07" y="329" width="0.8" height="10.4" fill="#222" fill-opacity="0.11"/>
<rect x="265.22" y="329" width="0.8" height="10.4" fill="#222" fill-opacity="0.2"/>
<rect x="214.99" y="329" width="0.8" height="10.4" fill="#222" fill-opacity="0.36"/>
<rect x="231.21" y="329" width="0.8" height="10.4" fill="#222" fill-opacity="0.13"/>
<rect x="218.13" y="329" width="0.8" height="10.4" fill="#222" fill-opacity="0.32"/>
<rect x="218.68" y="329" width="0.8" height="10.4" fill="#222" fill-opacity="0.21"/>
<rect x="261.35" y="329" width="0.8" height="10.4" fill="#222" fill-opacity="0.29"/>
<rect x="229.52" y="329" width="0.8" height="10.4" fill="#222" fill-opacity="0.3"/>
<rect x="210.37" y="329" width="0.8" height="10.4" fill="#222" fill-opacity="0.26"/>
<rect x="237.11" y="329" width="0.8" height="10.4" fill="#222" fill-opacity="0.18"/>
<rect x="214.94" y="329" width="0.8" height="10.4" fill="#222" fill-opacity="0.48"/>
<rect x="244.28" y="329" width="0.8" height="10.4" fill="#222" fill-opacity="0.19"/>
<rect x="252.23" y="329" width="0.8" height="10.4" fill="#222" fill-opacity="0.44"/>
<rect x="210.25" y="329" width="0.8" height="10.4" fill="#222" fill-opacity="0.11"/>
<rect x="217.28" y="329" width="0.8" height="10.4" fill="#222" fill-opacity="0.4"/>
<rect x="218.17" y="329" width="0.8" height="10.4" fill="#222" fill-opacity="0.4"/>
<rect x="258.44" y="329" width="0.8" height="10.4" fill="#222" fill-opacity="0.33"/>
<rect x="222.22" y="329" width="0.8" height="10.4" fill="#222" fill-opacity="0.51"/>
<rect x="268.98" y="329" width="0.8" height="10.4" fill="#222" fill-opacity="0.32"/>
<rect x="222.4" y="329" width="0.8" height="10.4" fill="#222" fill-opacity="0.37"/>
<rect x="235.08" y="329" width="0.8" height="10.4" fill="#222" fill-opacity="0.34"/>
<rect x="229.47" y="329" width="0.8" height="10.4" fill="#222" fill-opacity="0.36"/>
<rect x="212.1" y="329" width="0.8" height="10.4" fill="#222" fill-opacity="0.23"/>
<rect x="284.51" y="329" width="0.8" height="10.4" fill="#222" fill-opacity="0.47"/>
<rect x="228.36" y="329" width="0.8" height="10.4" fill="#222" fill-opacity="0.46"/>
<rect x="228.66" y="329" width="0.8" height="10.4" fill="#222" fill-opacity="0.49"/>
<rect x="264.19" y="329" width="0.8" height="10.4" fill="#222" fill-opacity="0.27"/>
<rect x="224.45" y="329" width="0.8" height="10.4" fill="#222" fill-opacity="0.1"/>
<rect x="276.29" y="329" width="0.8" height="10.4" fill="#222" fill-opacity="0.12"/>
<rect x="270.92" y="329" width="0.8" height="10.4" fill="#222" fill-opacity="0.5"/>
<rect x="249.26" y="329" width="0.8" height="10.4" fill="#222" fill-opacity="0.17"/>
<rect x="275.29" y="329" width="0.8" height="10.4" fill="#222" fill-opacity="0.51"/>
<rect x="260.69" y="329" width="0.8" height="10.4" fill="#222" fill-opacity="0.31"/>
<rect x="233.77" y="329" width="0.8" height="10.4" fill="#222" fill-opacity="0.25"/>
<rect x="221.2" y="329" width="0.8" height="10.4" fill="#222" fill-opacity="0.38"/>
<rect x="238.06" y="329" width="0.8" height="10.4" fill="#222" fill-opacity="0.18"/>
<rect x="214.68" y="329" width="0.8" height="10.4" fill="#222" fill-opacity="0.38"/>
<rect x="227.6" y="329" width="0.8" height="10.4" fill="#222" fill-opacity="0.31"/>
<rect x="229.77" y="329" width="0.8" height="10.4" fill="#222" fill-opacity="0.47"/>
<rect x="278.21" y="329" width="0.8" height="10.4" fill="#222" fill-opacity="0.11"/>
<rect x="220.86" y="329" width="0.8" height="10.4" fill="#222" fill-opacity="0.24"/>
<rect x="286.29" y="329" width="0.8" height="10.4" fill="#222" fill-opacity="0.43"/>
<rect x="230.8" y="329" width="0.8" height="10.4" fill="#222" fill-opacity="0.19"/>
<rect x="258.12" y="329" width="0.8" height="10.4" fill="#222" fill-opacity="0.45"/>
<rect x="281.2" y="329" width="0.8" height="10.4" fill="#222" fill-opacity="0.24"/>
<rect x="276.63" y="329" width="0.8" height="10.4" fill="#222" fill-opacity="0.39"/>
<rect x="242.19" y="329" width="0.8" height="10.4" fill="#222" fill-opacity="0.51"/>
<rect x="223.2" y="329" width="0.8" height="10.4" fill="#222" fill-opacity="0.4"/>
<rect x="213.53" y="329" width="0.8" height="10.4" fill="#222" fill-opacity="0.17"/>
<rect x="279.24" y="329" width="0.8" height="10.4" fill="#222" fill-opacity="0.19"/>
<rect x="265.54" y="329" width="0.8" height="10.4" fill="#222" fill-opacity="0.35"/>
<rect x="272.88" y="329" width="0.8" height="10.4" fill="#222" fill-opacity="0.25"/>
<rect x="230.89" y="329" width="0.8" height="10.4" fill="#222" fill-opacity="0.22"/>
<rect x="275.26" y="329" width="0.8" height="10.4" fill="#222" fill-opacity="0.35"/>
<rect x="283.24" y="329" width="0.8" height="10.4" fill="#222" fill-opacity="0.47"/>
<rect x="216.58" y="329" width="0.8" height="10.4" fill="#222" fill-opacity="0.33"/>
<rect x="214.68" y="329" width="0.8" height="10.4" fill="#222" fill-opacity="0.12"/>
<rect x="212.88" y="329" width="0.8" height="10.4" fill="#222" fill-opacity="0.46"/>
<polyline points="209.5,303 211.84,299 217.3,297 225.1,299.5 240.7,306 256.3,313 271.9,321 279.7,325.5 283.6,327.3 285.94,325.5 287.5,322.5" fill="none" stroke="#66bd86" stroke-width="1.0" stroke-linejoin="round"/>
<line x1="209.5" y1="321.5" x2="287.5" y2="321.5" stroke="#bbb" stroke-width="0.4" stroke-dasharray="1 1"/>
<rect x="209.5" y="293.5" width="78" height="49" fill="none" stroke="#111" stroke-width="0.9"/>
<line x1="206.5" y1="299.3" x2="209.5" y2="299.3" stroke="#222" stroke-width="0.7"/>
<text x="203.1" y="301.15" font-size="5.2" fill="#2a2a2a" text-anchor="end" stroke="#2a2a2a" stroke-width="0.12">0.5</text>
<line x1="206.5" y1="303" x2="209.5" y2="303" stroke="#222" stroke-width="0.7"/>
<text x="203.1" y="304.85" font-size="5.2" fill="#2a2a2a" text-anchor="end" stroke="#2a2a2a" stroke-width="0.12">0.4</text>
<line x1="206.5" y1="306.7" x2="209.5" y2="306.7" stroke="#222" stroke-width="0.7"/>
<text x="203.1" y="308.55" font-size="5.2" fill="#2a2a2a" text-anchor="end" stroke="#2a2a2a" stroke-width="0.12">0.3</text>
<line x1="206.5" y1="310.4" x2="209.5" y2="310.4" stroke="#222" stroke-width="0.7"/>
<text x="203.1" y="312.25" font-size="5.2" fill="#2a2a2a" text-anchor="end" stroke="#2a2a2a" stroke-width="0.12">0.2</text>
<line x1="206.5" y1="314.1" x2="209.5" y2="314.1" stroke="#222" stroke-width="0.7"/>
<text x="203.1" y="315.95" font-size="5.2" fill="#2a2a2a" text-anchor="end" stroke="#2a2a2a" stroke-width="0.12">0.1</text>
<line x1="206.5" y1="321.5" x2="209.5" y2="321.5" stroke="#222" stroke-width="0.7"/>
<text x="203.1" y="323.35" font-size="5.2" fill="#2a2a2a" text-anchor="end" stroke="#2a2a2a" stroke-width="0.12">0.0</text>
<line x1="206.5" y1="326.5" x2="209.5" y2="326.5" stroke="#222" stroke-width="0.7"/>
<text x="203.1" y="328.35" font-size="5.2" fill="#2a2a2a" text-anchor="end" stroke="#2a2a2a" stroke-width="0.12">-0.1</text>
<text x="212" y="320" font-size="5.4" fill="#2a2a2a" textLength="21.2" lengthAdjust="spacingAndGlyphs" stroke="#2a2a2a" stroke-width="0.12">NES:2.05</text>
<text x="212" y="326.4" font-size="5.4" fill="#2a2a2a" textLength="25.4" lengthAdjust="spacingAndGlyphs" stroke="#2a2a2a" stroke-width="0.12">FDRq:0.001</text>
<text x="210.9" y="351.2" font-size="6.6" fill="#3a3040" stroke="#3a3040" stroke-width="0.12">dKO</text>
<text x="287.7" y="351.2" font-size="6.6" fill="#62b552" text-anchor="end" textLength="26.8" lengthAdjust="spacingAndGlyphs" stroke="#62b552" stroke-width="0.12">Hoxa9KO</text>
<text x="356.5" y="280.4" font-size="8.7" fill="#2a2a2a" text-anchor="middle" textLength="35.5" lengthAdjust="spacingAndGlyphs" stroke="#2a2a2a" stroke-width="0.12">Boquest<tspan dy="-1.1">_</tspan><tspan dy="1.1">​</tspan></text>
<text x="356.5" y="288" font-size="8.7" fill="#2a2a2a" text-anchor="middle" textLength="54.7" lengthAdjust="spacingAndGlyphs" stroke="#2a2a2a" stroke-width="0.12">Stem<tspan dy="-1.1">_</tspan><tspan dy="1.1">​</tspan>Cell<tspan dy="-1.1">_</tspan><tspan dy="1.1">​</tspan>DN</text>
<text x="300.5" y="313.7" font-size="7.8" fill="#2a2a2a" text-anchor="middle" textLength="64.5" lengthAdjust="spacingAndGlyphs" transform="rotate(-90 300.5 313.7)" stroke="#2a2a2a" stroke-width="0.12">Enrichment score (ES)</text>
<rect x="320.5" y="339.4" width="79" height="3.1" fill="url(#gcb)"/>
<rect x="395.35" y="329" width="0.8" height="10.4" fill="#222" fill-opacity="0.5"/>
<rect x="323.02" y="329" width="0.8" height="10.4" fill="#222" fill-opacity="0.14"/>
<rect x="384.17" y="329" width="0.8" height="10.4" fill="#222" fill-opacity="0.41"/>
<rect x="369.33" y="329" width="0.8" height="10.4" fill="#222" fill-opacity="0.23"/>
<rect x="363.81" y="329" width="0.8" height="10.4" fill="#222" fill-opacity="0.35"/>
<rect x="361.69" y="329" width="0.8" height="10.4" fill="#222" fill-opacity="0.17"/>
<rect x="349.25" y="329" width="0.8" height="10.4" fill="#222" fill-opacity="0.27"/>
<rect x="374.03" y="329" width="0.8" height="10.4" fill="#222" fill-opacity="0.52"/>
<rect x="394.73" y="329" width="0.8" height="10.4" fill="#222" fill-opacity="0.33"/>
<rect x="350.39" y="329" width="0.8" height="10.4" fill="#222" fill-opacity="0.21"/>
<rect x="321.96" y="329" width="0.8" height="10.4" fill="#222" fill-opacity="0.11"/>
<rect x="352.01" y="329" width="0.8" height="10.4" fill="#222" fill-opacity="0.23"/>
<rect x="345.24" y="329" width="0.8" height="10.4" fill="#222" fill-opacity="0.47"/>
<rect x="357.02" y="329" width="0.8" height="10.4" fill="#222" fill-opacity="0.34"/>
<rect x="334.48" y="329" width="0.8" height="10.4" fill="#222" fill-opacity="0.11"/>
<rect x="341.02" y="329" width="0.8" height="10.4" fill="#222" fill-opacity="0.16"/>
<rect x="355.73" y="329" width="0.8" height="10.4" fill="#222" fill-opacity="0.52"/>
<rect x="369.75" y="329" width="0.8" height="10.4" fill="#222" fill-opacity="0.18"/>
<rect x="389.52" y="329" width="0.8" height="10.4" fill="#222" fill-opacity="0.43"/>
<rect x="375.04" y="329" width="0.8" height="10.4" fill="#222" fill-opacity="0.48"/>
<rect x="377.59" y="329" width="0.8" height="10.4" fill="#222" fill-opacity="0.43"/>
<rect x="343.2" y="329" width="0.8" height="10.4" fill="#222" fill-opacity="0.51"/>
<rect x="395.9" y="329" width="0.8" height="10.4" fill="#222" fill-opacity="0.17"/>
<rect x="376.8" y="329" width="0.8" height="10.4" fill="#222" fill-opacity="0.4"/>
<rect x="351.73" y="329" width="0.8" height="10.4" fill="#222" fill-opacity="0.32"/>
<rect x="354.06" y="329" width="0.8" height="10.4" fill="#222" fill-opacity="0.49"/>
<rect x="354.96" y="329" width="0.8" height="10.4" fill="#222" fill-opacity="0.45"/>
<rect x="343.22" y="329" width="0.8" height="10.4" fill="#222" fill-opacity="0.47"/>
<rect x="390.09" y="329" width="0.8" height="10.4" fill="#222" fill-opacity="0.29"/>
<rect x="360.55" y="329" width="0.8" height="10.4" fill="#222" fill-opacity="0.49"/>
<rect x="374.1" y="329" width="0.8" height="10.4" fill="#222" fill-opacity="0.3"/>
<rect x="333.47" y="329" width="0.8" height="10.4" fill="#222" fill-opacity="0.24"/>
<rect x="371.95" y="329" width="0.8" height="10.4" fill="#222" fill-opacity="0.17"/>
<rect x="390.86" y="329" width="0.8" height="10.4" fill="#222" fill-opacity="0.21"/>
<rect x="391.17" y="329" width="0.8" height="10.4" fill="#222" fill-opacity="0.23"/>
<rect x="395.48" y="329" width="0.8" height="10.4" fill="#222" fill-opacity="0.4"/>
<rect x="355.24" y="329" width="0.8" height="10.4" fill="#222" fill-opacity="0.32"/>
<rect x="367.73" y="329" width="0.8" height="10.4" fill="#222" fill-opacity="0.35"/>
<rect x="340.01" y="329" width="0.8" height="10.4" fill="#222" fill-opacity="0.19"/>
<rect x="355.87" y="329" width="0.8" height="10.4" fill="#222" fill-opacity="0.49"/>
<rect x="365.3" y="329" width="0.8" height="10.4" fill="#222" fill-opacity="0.13"/>
<rect x="382.8" y="329" width="0.8" height="10.4" fill="#222" fill-opacity="0.4"/>
<rect x="390.83" y="329" width="0.8" height="10.4" fill="#222" fill-opacity="0.18"/>
<rect x="375.97" y="329" width="0.8" height="10.4" fill="#222" fill-opacity="0.12"/>
<rect x="367.86" y="329" width="0.8" height="10.4" fill="#222" fill-opacity="0.21"/>
<rect x="333.8" y="329" width="0.8" height="10.4" fill="#222" fill-opacity="0.47"/>
<rect x="325.86" y="329" width="0.8" height="10.4" fill="#222" fill-opacity="0.32"/>
<rect x="385.86" y="329" width="0.8" height="10.4" fill="#222" fill-opacity="0.2"/>
<rect x="332.68" y="329" width="0.8" height="10.4" fill="#222" fill-opacity="0.47"/>
<rect x="348.63" y="329" width="0.8" height="10.4" fill="#222" fill-opacity="0.4"/>
<rect x="321.76" y="329" width="0.8" height="10.4" fill="#222" fill-opacity="0.25"/>
<rect x="330.05" y="329" width="0.8" height="10.4" fill="#222" fill-opacity="0.38"/>
<rect x="324.48" y="329" width="0.8" height="10.4" fill="#222" fill-opacity="0.5"/>
<rect x="321.46" y="329" width="0.8" height="10.4" fill="#222" fill-opacity="0.41"/>
<rect x="321.27" y="329" width="0.8" height="10.4" fill="#222" fill-opacity="0.21"/>
<rect x="382.15" y="329" width="0.8" height="10.4" fill="#222" fill-opacity="0.17"/>
<rect x="330.84" y="329" width="0.8" height="10.4" fill="#222" fill-opacity="0.39"/>
<rect x="345.67" y="329" width="0.8" height="10.4" fill="#222" fill-opacity="0.12"/>
<rect x="398.55" y="329" width="0.8" height="10.4" fill="#222" fill-opacity="0.16"/>
<rect x="321.98" y="329" width="0.8" height="10.4" fill="#222" fill-opacity="0.24"/>
<rect x="364.6" y="329" width="0.8" height="10.4" fill="#222" fill-opacity="0.41"/>
<rect x="326.28" y="329" width="0.8" height="10.4" fill="#222" fill-opacity="0.24"/>
<rect x="321.71" y="329" width="0.8" height="10.4" fill="#222" fill-opacity="0.29"/>
<rect x="377.87" y="329" width="0.8" height="10.4" fill="#222" fill-opacity="0.41"/>
<rect x="390.31" y="329" width="0.8" height="10.4" fill="#222" fill-opacity="0.42"/>
<rect x="386.65" y="329" width="0.8" height="10.4" fill="#222" fill-opacity="0.4"/>
<rect x="352.65" y="329" width="0.8" height="10.4" fill="#222" fill-opacity="0.19"/>
<rect x="368.55" y="329" width="0.8" height="10.4" fill="#222" fill-opacity="0.23"/>
<rect x="325.61" y="329" width="0.8" height="10.4" fill="#222" fill-opacity="0.29"/>
<rect x="387.78" y="329" width="0.8" height="10.4" fill="#222" fill-opacity="0.15"/>
<rect x="362.01" y="329" width="0.8" height="10.4" fill="#222" fill-opacity="0.27"/>
<rect x="356.11" y="329" width="0.8" height="10.4" fill="#222" fill-opacity="0.16"/>
<rect x="395.7" y="329" width="0.8" height="10.4" fill="#222" fill-opacity="0.21"/>
<rect x="363.82" y="329" width="0.8" height="10.4" fill="#222" fill-opacity="0.28"/>
<rect x="321.14" y="329" width="0.8" height="10.4" fill="#222" fill-opacity="0.33"/>
<rect x="328" y="329" width="0.8" height="10.4" fill="#222" fill-opacity="0.12"/>
<rect x="321.84" y="329" width="0.8" height="10.4" fill="#222" fill-opacity="0.17"/>
<rect x="325.24" y="329" width="0.8" height="10.4" fill="#222" fill-opacity="0.37"/>
<rect x="355.57" y="329" width="0.8" height="10.4" fill="#222" fill-opacity="0.51"/>
<rect x="393.3" y="329" width="0.8" height="10.4" fill="#222" fill-opacity="0.52"/>
<rect x="334.22" y="329" width="0.8" height="10.4" fill="#222" fill-opacity="0.29"/>
<rect x="335.52" y="329" width="0.8" height="10.4" fill="#222" fill-opacity="0.35"/>
<rect x="365.37" y="329" width="0.8" height="10.4" fill="#222" fill-opacity="0.44"/>
<rect x="372.83" y="329" width="0.8" height="10.4" fill="#222" fill-opacity="0.21"/>
<rect x="348.64" y="329" width="0.8" height="10.4" fill="#222" fill-opacity="0.32"/>
<rect x="320.63" y="329" width="0.8" height="10.4" fill="#222" fill-opacity="0.11"/>
<rect x="347.5" y="329" width="0.8" height="10.4" fill="#222" fill-opacity="0.15"/>
<rect x="374.1" y="329" width="0.8" height="10.4" fill="#222" fill-opacity="0.2"/>
<rect x="325.47" y="329" width="0.8" height="10.4" fill="#222" fill-opacity="0.18"/>
<rect x="334.15" y="329" width="0.8" height="10.4" fill="#222" fill-opacity="0.19"/>
<rect x="356.61" y="329" width="0.8" height="10.4" fill="#222" fill-opacity="0.3"/>
<rect x="339.86" y="329" width="0.8" height="10.4" fill="#222" fill-opacity="0.37"/>
<rect x="332.81" y="329" width="0.8" height="10.4" fill="#222" fill-opacity="0.48"/>
<rect x="396.02" y="329" width="0.8" height="10.4" fill="#222" fill-opacity="0.41"/>
<rect x="349.49" y="329" width="0.8" height="10.4" fill="#222" fill-opacity="0.31"/>
<rect x="361.68" y="329" width="0.8" height="10.4" fill="#222" fill-opacity="0.12"/>
<rect x="348.24" y="329" width="0.8" height="10.4" fill="#222" fill-opacity="0.32"/>
<rect x="330.67" y="329" width="0.8" height="10.4" fill="#222" fill-opacity="0.14"/>
<rect x="381.18" y="329" width="0.8" height="10.4" fill="#222" fill-opacity="0.25"/>
<rect x="356.48" y="329" width="0.8" height="10.4" fill="#222" fill-opacity="0.49"/>
<rect x="364.2" y="329" width="0.8" height="10.4" fill="#222" fill-opacity="0.22"/>
<rect x="397.94" y="329" width="0.8" height="10.4" fill="#222" fill-opacity="0.26"/>
<rect x="321.18" y="329" width="0.8" height="10.4" fill="#222" fill-opacity="0.39"/>
<rect x="325.55" y="329" width="0.8" height="10.4" fill="#222" fill-opacity="0.23"/>
<rect x="384.64" y="329" width="0.8" height="10.4" fill="#222" fill-opacity="0.38"/>
<rect x="321.04" y="329" width="0.8" height="10.4" fill="#222" fill-opacity="0.29"/>
<rect x="347.65" y="329" width="0.8" height="10.4" fill="#222" fill-opacity="0.3"/>
<rect x="332.52" y="329" width="0.8" height="10.4" fill="#222" fill-opacity="0.35"/>
<rect x="323.96" y="329" width="0.8" height="10.4" fill="#222" fill-opacity="0.22"/>
<rect x="344.68" y="329" width="0.8" height="10.4" fill="#222" fill-opacity="0.49"/>
<rect x="324.12" y="329" width="0.8" height="10.4" fill="#222" fill-opacity="0.42"/>
<rect x="331.43" y="329" width="0.8" height="10.4" fill="#222" fill-opacity="0.34"/>
<rect x="346.16" y="329" width="0.8" height="10.4" fill="#222" fill-opacity="0.29"/>
<rect x="376.76" y="329" width="0.8" height="10.4" fill="#222" fill-opacity="0.27"/>
<rect x="326.81" y="329" width="0.8" height="10.4" fill="#222" fill-opacity="0.15"/>
<polyline points="320.5,312.5 323.66,303.8 326.82,301 330.77,296.3 336.3,297.5 344.2,300.5 356.05,306 367.9,313 383.7,321 393.18,325.8 396.34,326.2 399.5,323" fill="none" stroke="#66bd86" stroke-width="1.0" stroke-linejoin="round"/>
<line x1="320.5" y1="324" x2="399.5" y2="324" stroke="#bbb" stroke-width="0.4" stroke-dasharray="1 1"/>
<rect x="320.5" y="293.5" width="79" height="49" fill="none" stroke="#111" stroke-width="0.9"/>
<line x1="317.5" y1="296.8" x2="320.5" y2="296.8" stroke="#222" stroke-width="0.7"/>
<text x="314.1" y="298.65" font-size="5.2" fill="#2a2a2a" text-anchor="end" stroke="#2a2a2a" stroke-width="0.12">0.5</text>
<line x1="317.5" y1="302.2" x2="320.5" y2="302.2" stroke="#222" stroke-width="0.7"/>
<text x="314.1" y="304.05" font-size="5.2" fill="#2a2a2a" text-anchor="end" stroke="#2a2a2a" stroke-width="0.12">0.4</text>
<line x1="317.5" y1="307.6" x2="320.5" y2="307.6" stroke="#222" stroke-width="0.7"/>
<text x="314.1" y="309.45" font-size="5.2" fill="#2a2a2a" text-anchor="end" stroke="#2a2a2a" stroke-width="0.12">0.3</text>
<line x1="317.5" y1="313" x2="320.5" y2="313" stroke="#222" stroke-width="0.7"/>
<text x="314.1" y="314.85" font-size="5.2" fill="#2a2a2a" text-anchor="end" stroke="#2a2a2a" stroke-width="0.12">0.2</text>
<line x1="317.5" y1="318.4" x2="320.5" y2="318.4" stroke="#222" stroke-width="0.7"/>
<text x="314.1" y="320.25" font-size="5.2" fill="#2a2a2a" text-anchor="end" stroke="#2a2a2a" stroke-width="0.12">0.1</text>
<line x1="317.5" y1="323.9" x2="320.5" y2="323.9" stroke="#222" stroke-width="0.7"/>
<text x="314.1" y="325.75" font-size="5.2" fill="#2a2a2a" text-anchor="end" stroke="#2a2a2a" stroke-width="0.12">0.0</text>
<text x="323" y="319.4" font-size="5.4" fill="#2a2a2a" stroke="#2a2a2a" stroke-width="0.12">NES:1.8</text>
<text x="323" y="326.2" font-size="5.4" fill="#2a2a2a" stroke="#2a2a2a" stroke-width="0.12">FDRq:0.03</text>
<text x="321.9" y="351.2" font-size="6.6" fill="#3a3040" stroke="#3a3040" stroke-width="0.12">dKO</text>
<text x="396.3" y="351.2" font-size="6.6" fill="#62b552" text-anchor="end" textLength="26.8" lengthAdjust="spacingAndGlyphs" stroke="#62b552" stroke-width="0.12">Hoxa9KO</text>
<text x="468.7" y="271.8" font-size="8.7" fill="#2a2a2a" text-anchor="middle" textLength="86.5" lengthAdjust="spacingAndGlyphs" stroke="#2a2a2a" stroke-width="0.12">WP<tspan dy="-1.1">_</tspan><tspan dy="1.1">​</tspan>Pluripotent<tspan dy="-1.1">_</tspan><tspan dy="1.1">​</tspan>Stem<tspan dy="-1.1">_</tspan><tspan dy="1.1">​</tspan></text>
<text x="468.7" y="280.8" font-size="8.7" fill="#2a2a2a" text-anchor="middle" textLength="73.7" lengthAdjust="spacingAndGlyphs" stroke="#2a2a2a" stroke-width="0.12">Cell<tspan dy="-1.1">_</tspan><tspan dy="1.1">​</tspan>Differentiation</text>
<text x="468.7" y="288.1" font-size="8.7" fill="#2a2a2a" text-anchor="middle" textLength="31.3" lengthAdjust="spacingAndGlyphs" stroke="#2a2a2a" stroke-width="0.12">Pathway</text>
<text x="411.5" y="313.7" font-size="7.8" fill="#2a2a2a" text-anchor="middle" textLength="64.5" lengthAdjust="spacingAndGlyphs" transform="rotate(-90 411.5 313.7)" stroke="#2a2a2a" stroke-width="0.12">Enrichment score (ES)</text>
<rect x="429.5" y="339.4" width="82" height="3.1" fill="url(#gcb)"/>
<rect x="431.96" y="329" width="0.8" height="10.4" fill="#222" fill-opacity="0.35"/>
<rect x="437.7" y="329" width="0.8" height="10.4" fill="#222" fill-opacity="0.3"/>
<rect x="443.44" y="329" width="0.8" height="10.4" fill="#222" fill-opacity="0.35"/>
<rect x="450" y="329" width="0.8" height="10.4" fill="#222" fill-opacity="0.3"/>
<rect x="454.92" y="329" width="0.8" height="10.4" fill="#222" fill-opacity="0.3"/>
<rect x="466.4" y="329" width="0.8" height="10.4" fill="#222" fill-opacity="0.3"/>
<rect x="474.6" y="329" width="0.8" height="10.4" fill="#222" fill-opacity="0.32"/>
<rect x="481.16" y="329" width="0.8" height="10.4" fill="#222" fill-opacity="0.3"/>
<rect x="488.54" y="329" width="0.8" height="10.4" fill="#222" fill-opacity="0.35"/>
<rect x="495.1" y="329" width="0.8" height="10.4" fill="#222" fill-opacity="0.3"/>
<rect x="500.02" y="329" width="0.8" height="10.4" fill="#222" fill-opacity="0.32"/>
<rect x="506.58" y="329" width="0.8" height="10.4" fill="#222" fill-opacity="0.4"/>
<polyline points="429.5,306 430.73,298 433.6,297.5 436.88,299.5 440.16,296.6 445.9,298.3 454.1,301 470.5,308 486.9,315.5 499.2,322 503.3,325 505.76,327 507.4,325 511.5,324.5" fill="none" stroke="#66bd86" stroke-width="1.0" stroke-linejoin="round"/>
<line x1="429.5" y1="326.2" x2="511.5" y2="326.2" stroke="#bbb" stroke-width="0.4" stroke-dasharray="1 1"/>
<rect x="429.5" y="293.5" width="82" height="49" fill="none" stroke="#111" stroke-width="0.9"/>
<line x1="426.5" y1="297.5" x2="429.5" y2="297.5" stroke="#222" stroke-width="0.7"/>
<text x="423.1" y="299.35" font-size="5.2" fill="#2a2a2a" text-anchor="end" stroke="#2a2a2a" stroke-width="0.12">0.6</text>
<line x1="426.5" y1="302.3" x2="429.5" y2="302.3" stroke="#222" stroke-width="0.7"/>
<text x="423.1" y="304.15" font-size="5.2" fill="#2a2a2a" text-anchor="end" stroke="#2a2a2a" stroke-width="0.12">0.5</text>
<line x1="426.5" y1="307.1" x2="429.5" y2="307.1" stroke="#222" stroke-width="0.7"/>
<text x="423.1" y="308.95" font-size="5.2" fill="#2a2a2a" text-anchor="end" stroke="#2a2a2a" stroke-width="0.12">0.4</text>
<line x1="426.5" y1="311.9" x2="429.5" y2="311.9" stroke="#222" stroke-width="0.7"/>
<text x="423.1" y="313.75" font-size="5.2" fill="#2a2a2a" text-anchor="end" stroke="#2a2a2a" stroke-width="0.12">0.3</text>
<line x1="426.5" y1="316.7" x2="429.5" y2="316.7" stroke="#222" stroke-width="0.7"/>
<text x="423.1" y="318.55" font-size="5.2" fill="#2a2a2a" text-anchor="end" stroke="#2a2a2a" stroke-width="0.12">0.2</text>
<line x1="426.5" y1="321.5" x2="429.5" y2="321.5" stroke="#222" stroke-width="0.7"/>
<text x="423.1" y="323.35" font-size="5.2" fill="#2a2a2a" text-anchor="end" stroke="#2a2a2a" stroke-width="0.12">0.1</text>
<line x1="426.5" y1="326.3" x2="429.5" y2="326.3" stroke="#222" stroke-width="0.7"/>
<text x="423.1" y="328.15" font-size="5.2" fill="#2a2a2a" text-anchor="end" stroke="#2a2a2a" stroke-width="0.12">0.0</text>
<text x="432" y="319.4" font-size="5.4" fill="#2a2a2a" stroke="#2a2a2a" stroke-width="0.12">NES:1.54</text>
<text x="432" y="326.2" font-size="5.4" fill="#2a2a2a" stroke="#2a2a2a" stroke-width="0.12">FDRq:0.14</text>
<text x="430.9" y="351.2" font-size="6.6" fill="#3a3040" stroke="#3a3040" stroke-width="0.12">dKO</text>
<text x="507" y="351.2" font-size="6.6" fill="#62b552" text-anchor="end" textLength="26.8" lengthAdjust="spacingAndGlyphs" stroke="#62b552" stroke-width="0.12">Hoxa9KO</text>
<text x="239.7" y="373.2" font-size="8.7" fill="#2a2a2a" text-anchor="middle" textLength="36.2" lengthAdjust="spacingAndGlyphs" stroke="#2a2a2a" stroke-width="0.12">Jaatinen<tspan dy="-1.1">_</tspan><tspan dy="1.1">​</tspan></text>
<text x="239.7" y="382" font-size="8.7" fill="#2a2a2a" text-anchor="middle" textLength="64.8" lengthAdjust="spacingAndGlyphs" stroke="#2a2a2a" stroke-width="0.12">Hematopoeietic<tspan dy="-1.1">_</tspan><tspan dy="1.1">​</tspan></text>
<text x="239.7" y="389.7" font-size="8.7" fill="#2a2a2a" text-anchor="middle" textLength="55.8" lengthAdjust="spacingAndGlyphs" stroke="#2a2a2a" stroke-width="0.12">Stem<tspan dy="-1.1">_</tspan><tspan dy="1.1">​</tspan>Cell<tspan dy="-1.1">_</tspan><tspan dy="1.1">​</tspan>DN</text>
<text x="191" y="416.3" font-size="7.8" fill="#2a2a2a" text-anchor="middle" textLength="64.5" lengthAdjust="spacingAndGlyphs" transform="rotate(-90 191 416.3)" stroke="#2a2a2a" stroke-width="0.12">Enrichment score (ES)</text>
<rect x="209.5" y="442" width="78" height="3.5" fill="url(#gcb)"/>
<rect x="223.29" y="431" width="0.8" height="11" fill="#222" fill-opacity="0.14"/>
<rect x="235.17" y="431" width="0.8" height="11" fill="#222" fill-opacity="0.17"/>
<rect x="212.52" y="431" width="0.8" height="11" fill="#222" fill-opacity="0.27"/>
<rect x="279.89" y="431" width="0.8" height="11" fill="#222" fill-opacity="0.44"/>
<rect x="266.07" y="431" width="0.8" height="11" fill="#222" fill-opacity="0.19"/>
<rect x="246.46" y="431" width="0.8" height="11" fill="#222" fill-opacity="0.22"/>
<rect x="218.98" y="431" width="0.8" height="11" fill="#222" fill-opacity="0.14"/>
<rect x="221.79" y="431" width="0.8" height="11" fill="#222" fill-opacity="0.49"/>
<rect x="271.77" y="431" width="0.8" height="11" fill="#222" fill-opacity="0.44"/>
<rect x="269.22" y="431" width="0.8" height="11" fill="#222" fill-opacity="0.18"/>
<rect x="228.62" y="431" width="0.8" height="11" fill="#222" fill-opacity="0.36"/>
<rect x="263.13" y="431" width="0.8" height="11" fill="#222" fill-opacity="0.46"/>
<rect x="276.41" y="431" width="0.8" height="11" fill="#222" fill-opacity="0.14"/>
<rect x="252.25" y="431" width="0.8" height="11" fill="#222" fill-opacity="0.38"/>
<rect x="243.94" y="431" width="0.8" height="11" fill="#222" fill-opacity="0.17"/>
<rect x="241.31" y="431" width="0.8" height="11" fill="#222" fill-opacity="0.14"/>
<rect x="281.42" y="431" width="0.8" height="11" fill="#222" fill-opacity="0.46"/>
<rect x="247.37" y="431" width="0.8" height="11" fill="#222" fill-opacity="0.23"/>
<rect x="279.05" y="431" width="0.8" height="11" fill="#222" fill-opacity="0.34"/>
<rect x="276.62" y="431" width="0.8" height="11" fill="#222" fill-opacity="0.46"/>
<rect x="244.13" y="431" width="0.8" height="11" fill="#222" fill-opacity="0.27"/>
<rect x="251.66" y="431" width="0.8" height="11" fill="#222" fill-opacity="0.28"/>
<rect x="218.24" y="431" width="0.8" height="11" fill="#222" fill-opacity="0.23"/>
<rect x="270.31" y="431" width="0.8" height="11" fill="#222" fill-opacity="0.12"/>
<rect x="211.45" y="431" width="0.8" height="11" fill="#222" fill-opacity="0.36"/>
<rect x="226.46" y="431" width="0.8" height="11" fill="#222" fill-opacity="0.32"/>
<rect x="241.12" y="431" width="0.8" height="11" fill="#222" fill-opacity="0.24"/>
<rect x="287.25" y="431" width="0.8" height="11" fill="#222" fill-opacity="0.18"/>
<rect x="236.48" y="431" width="0.8" height="11" fill="#222" fill-opacity="0.19"/>
<rect x="254.53" y="431" width="0.8" height="11" fill="#222" fill-opacity="0.22"/>
<rect x="232.07" y="431" width="0.8" height="11" fill="#222" fill-opacity="0.41"/>
<rect x="229.42" y="431" width="0.8" height="11" fill="#222" fill-opacity="0.33"/>
<rect x="278.63" y="431" width="0.8" height="11" fill="#222" fill-opacity="0.14"/>
<rect x="212.25" y="431" width="0.8" height="11" fill="#222" fill-opacity="0.2"/>
<rect x="266.07" y="431" width="0.8" height="11" fill="#222" fill-opacity="0.36"/>
<rect x="223.39" y="431" width="0.8" height="11" fill="#222" fill-opacity="0.24"/>
<rect x="219.3" y="431" width="0.8" height="11" fill="#222" fill-opacity="0.29"/>
<rect x="211.28" y="431" width="0.8" height="11" fill="#222" fill-opacity="0.39"/>
<rect x="277.86" y="431" width="0.8" height="11" fill="#222" fill-opacity="0.5"/>
<rect x="263.4" y="431" width="0.8" height="11" fill="#222" fill-opacity="0.5"/>
<rect x="210.14" y="431" width="0.8" height="11" fill="#222" fill-opacity="0.22"/>
<rect x="284.33" y="431" width="0.8" height="11" fill="#222" fill-opacity="0.43"/>
<rect x="236.29" y="431" width="0.8" height="11" fill="#222" fill-opacity="0.5"/>
<rect x="253.49" y="431" width="0.8" height="11" fill="#222" fill-opacity="0.44"/>
<rect x="227.41" y="431" width="0.8" height="11" fill="#222" fill-opacity="0.18"/>
<rect x="238.95" y="431" width="0.8" height="11" fill="#222" fill-opacity="0.16"/>
<rect x="234.05" y="431" width="0.8" height="11" fill="#222" fill-opacity="0.5"/>
<rect x="230.22" y="431" width="0.8" height="11" fill="#222" fill-opacity="0.1"/>
<rect x="211.38" y="431" width="0.8" height="11" fill="#222" fill-opacity="0.17"/>
<rect x="267.72" y="431" width="0.8" height="11" fill="#222" fill-opacity="0.25"/>
<rect x="227.18" y="431" width="0.8" height="11" fill="#222" fill-opacity="0.14"/>
<rect x="285.79" y="431" width="0.8" height="11" fill="#222" fill-opacity="0.28"/>
<rect x="221.35" y="431" width="0.8" height="11" fill="#222" fill-opacity="0.12"/>
<rect x="211.92" y="431" width="0.8" height="11" fill="#222" fill-opacity="0.17"/>
<rect x="258.33" y="431" width="0.8" height="11" fill="#222" fill-opacity="0.16"/>
<rect x="211.18" y="431" width="0.8" height="11" fill="#222" fill-opacity="0.31"/>
<rect x="224.21" y="431" width="0.8" height="11" fill="#222" fill-opacity="0.52"/>
<rect x="215.76" y="431" width="0.8" height="11" fill="#222" fill-opacity="0.32"/>
<rect x="266.84" y="431" width="0.8" height="11" fill="#222" fill-opacity="0.27"/>
<rect x="286.35" y="431" width="0.8" height="11" fill="#222" fill-opacity="0.3"/>
<rect x="223.7" y="431" width="0.8" height="11" fill="#222" fill-opacity="0.27"/>
<rect x="210.99" y="431" width="0.8" height="11" fill="#222" fill-opacity="0.28"/>
<rect x="224.18" y="431" width="0.8" height="11" fill="#222" fill-opacity="0.47"/>
<rect x="271.97" y="431" width="0.8" height="11" fill="#222" fill-opacity="0.31"/>
<rect x="210.74" y="431" width="0.8" height="11" fill="#222" fill-opacity="0.21"/>
<rect x="223.74" y="431" width="0.8" height="11" fill="#222" fill-opacity="0.19"/>
<rect x="222.97" y="431" width="0.8" height="11" fill="#222" fill-opacity="0.47"/>
<rect x="216.98" y="431" width="0.8" height="11" fill="#222" fill-opacity="0.12"/>
<rect x="280.81" y="431" width="0.8" height="11" fill="#222" fill-opacity="0.34"/>
<rect x="286.62" y="431" width="0.8" height="11" fill="#222" fill-opacity="0.27"/>
<rect x="278.32" y="431" width="0.8" height="11" fill="#222" fill-opacity="0.37"/>
<rect x="268.36" y="431" width="0.8" height="11" fill="#222" fill-opacity="0.41"/>
<rect x="242.99" y="431" width="0.8" height="11" fill="#222" fill-opacity="0.14"/>
<rect x="221.55" y="431" width="0.8" height="11" fill="#222" fill-opacity="0.47"/>
<rect x="278.21" y="431" width="0.8" height="11" fill="#222" fill-opacity="0.49"/>
<rect x="230.62" y="431" width="0.8" height="11" fill="#222" fill-opacity="0.38"/>
<rect x="269.13" y="431" width="0.8" height="11" fill="#222" fill-opacity="0.37"/>
<rect x="270.51" y="431" width="0.8" height="11" fill="#222" fill-opacity="0.32"/>
<rect x="256.42" y="431" width="0.8" height="11" fill="#222" fill-opacity="0.39"/>
<rect x="225.59" y="431" width="0.8" height="11" fill="#222" fill-opacity="0.49"/>
<rect x="283.43" y="431" width="0.8" height="11" fill="#222" fill-opacity="0.13"/>
<rect x="284.8" y="431" width="0.8" height="11" fill="#222" fill-opacity="0.5"/>
<rect x="257.6" y="431" width="0.8" height="11" fill="#222" fill-opacity="0.12"/>
<rect x="278.14" y="431" width="0.8" height="11" fill="#222" fill-opacity="0.15"/>
<rect x="284.56" y="431" width="0.8" height="11" fill="#222" fill-opacity="0.38"/>
<rect x="212.19" y="431" width="0.8" height="11" fill="#222" fill-opacity="0.17"/>
<rect x="254.75" y="431" width="0.8" height="11" fill="#222" fill-opacity="0.34"/>
<rect x="264.42" y="431" width="0.8" height="11" fill="#222" fill-opacity="0.49"/>
<rect x="222.08" y="431" width="0.8" height="11" fill="#222" fill-opacity="0.1"/>
<rect x="280.29" y="431" width="0.8" height="11" fill="#222" fill-opacity="0.11"/>
<rect x="276.08" y="431" width="0.8" height="11" fill="#222" fill-opacity="0.15"/>
<rect x="270.06" y="431" width="0.8" height="11" fill="#222" fill-opacity="0.43"/>
<rect x="276.21" y="431" width="0.8" height="11" fill="#222" fill-opacity="0.33"/>
<rect x="276.29" y="431" width="0.8" height="11" fill="#222" fill-opacity="0.18"/>
<rect x="257.87" y="431" width="0.8" height="11" fill="#222" fill-opacity="0.24"/>
<rect x="277.48" y="431" width="0.8" height="11" fill="#222" fill-opacity="0.42"/>
<rect x="241.14" y="431" width="0.8" height="11" fill="#222" fill-opacity="0.32"/>
<rect x="210.5" y="431" width="0.8" height="11" fill="#222" fill-opacity="0.11"/>
<rect x="251.29" y="431" width="0.8" height="11" fill="#222" fill-opacity="0.31"/>
<rect x="275.02" y="431" width="0.8" height="11" fill="#222" fill-opacity="0.36"/>
<rect x="216.79" y="431" width="0.8" height="11" fill="#222" fill-opacity="0.25"/>
<rect x="266.29" y="431" width="0.8" height="11" fill="#222" fill-opacity="0.32"/>
<rect x="209.83" y="431" width="0.8" height="11" fill="#222" fill-opacity="0.45"/>
<rect x="271.65" y="431" width="0.8" height="11" fill="#222" fill-opacity="0.14"/>
<rect x="247.02" y="431" width="0.8" height="11" fill="#222" fill-opacity="0.26"/>
<rect x="268.05" y="431" width="0.8" height="11" fill="#222" fill-opacity="0.23"/>
<rect x="223.13" y="431" width="0.8" height="11" fill="#222" fill-opacity="0.3"/>
<rect x="284.35" y="431" width="0.8" height="11" fill="#222" fill-opacity="0.14"/>
<rect x="215.29" y="431" width="0.8" height="11" fill="#222" fill-opacity="0.36"/>
<rect x="276.9" y="431" width="0.8" height="11" fill="#222" fill-opacity="0.32"/>
<rect x="238.14" y="431" width="0.8" height="11" fill="#222" fill-opacity="0.46"/>
<rect x="267.09" y="431" width="0.8" height="11" fill="#222" fill-opacity="0.13"/>
<rect x="276.53" y="431" width="0.8" height="11" fill="#222" fill-opacity="0.18"/>
<rect x="228.06" y="431" width="0.8" height="11" fill="#222" fill-opacity="0.45"/>
<rect x="237.24" y="431" width="0.8" height="11" fill="#222" fill-opacity="0.44"/>
<rect x="218.63" y="431" width="0.8" height="11" fill="#222" fill-opacity="0.47"/>
<rect x="219.22" y="431" width="0.8" height="11" fill="#222" fill-opacity="0.16"/>
<rect x="242.98" y="431" width="0.8" height="11" fill="#222" fill-opacity="0.24"/>
<rect x="246.89" y="431" width="0.8" height="11" fill="#222" fill-opacity="0.48"/>
<rect x="261.26" y="431" width="0.8" height="11" fill="#222" fill-opacity="0.1"/>
<polyline points="209.5,406.3 214.96,402.5 218.86,400.5 223.54,399.3 226.66,398.8 232.9,400.3 244.6,405 256.3,411.5 271.9,421.5 279.7,426.5 283.6,428.6 287.5,428" fill="none" stroke="#66bd86" stroke-width="1.0" stroke-linejoin="round"/>
<line x1="209.5" y1="427.5" x2="287.5" y2="427.5" stroke="#bbb" stroke-width="0.4" stroke-dasharray="1 1"/>
<rect x="209.5" y="394.5" width="78" height="51" fill="none" stroke="#111" stroke-width="0.9"/>
<line x1="206.5" y1="400" x2="209.5" y2="400" stroke="#222" stroke-width="0.7"/>
<text x="203.1" y="401.85" font-size="5.2" fill="#2a2a2a" text-anchor="end" stroke="#2a2a2a" stroke-width="0.12">0.6</text>
<line x1="206.5" y1="404.6" x2="209.5" y2="404.6" stroke="#222" stroke-width="0.7"/>
<text x="203.1" y="406.45" font-size="5.2" fill="#2a2a2a" text-anchor="end" stroke="#2a2a2a" stroke-width="0.12">0.5</text>
<line x1="206.5" y1="409.2" x2="209.5" y2="409.2" stroke="#222" stroke-width="0.7"/>
<text x="203.1" y="411.05" font-size="5.2" fill="#2a2a2a" text-anchor="end" stroke="#2a2a2a" stroke-width="0.12">0.4</text>
<line x1="206.5" y1="413.8" x2="209.5" y2="413.8" stroke="#222" stroke-width="0.7"/>
<text x="203.1" y="415.65" font-size="5.2" fill="#2a2a2a" text-anchor="end" stroke="#2a2a2a" stroke-width="0.12">0.3</text>
<line x1="206.5" y1="418.4" x2="209.5" y2="418.4" stroke="#222" stroke-width="0.7"/>
<text x="203.1" y="420.25" font-size="5.2" fill="#2a2a2a" text-anchor="end" stroke="#2a2a2a" stroke-width="0.12">0.2</text>
<line x1="206.5" y1="423" x2="209.5" y2="423" stroke="#222" stroke-width="0.7"/>
<text x="203.1" y="424.85" font-size="5.2" fill="#2a2a2a" text-anchor="end" stroke="#2a2a2a" stroke-width="0.12">0.1</text>
<line x1="206.5" y1="427.6" x2="209.5" y2="427.6" stroke="#222" stroke-width="0.7"/>
<text x="203.1" y="429.45" font-size="5.2" fill="#2a2a2a" text-anchor="end" stroke="#2a2a2a" stroke-width="0.12">0.0</text>
<text x="212" y="419.9" font-size="5.4" fill="#2a2a2a" stroke="#2a2a2a" stroke-width="0.12">NES:2.02</text>
<text x="212" y="425.7" font-size="5.4" fill="#2a2a2a" stroke="#2a2a2a" stroke-width="0.12">FDRq:0.003</text>
<text x="210.9" y="453.1" font-size="6.6" fill="#3a3040" stroke="#3a3040" stroke-width="0.12">dKO</text>
<text x="286.3" y="453.1" font-size="6.6" fill="#3a66a8" text-anchor="end" textLength="34.6" lengthAdjust="spacingAndGlyphs" stroke="#3a66a8" stroke-width="0.12">&#946;-cateninKO</text>
<text x="359.5" y="381.7" font-size="8.7" fill="#2a2a2a" text-anchor="middle" textLength="31.9" lengthAdjust="spacingAndGlyphs" stroke="#2a2a2a" stroke-width="0.12">Boquest<tspan dy="-1.1">_</tspan><tspan dy="1.1">​</tspan></text>
<text x="359.5" y="389.3" font-size="8.7" fill="#2a2a2a" text-anchor="middle" textLength="55.4" lengthAdjust="spacingAndGlyphs" stroke="#2a2a2a" stroke-width="0.12">Stem<tspan dy="-1.1">_</tspan><tspan dy="1.1">​</tspan>Cell<tspan dy="-1.1">_</tspan><tspan dy="1.1">​</tspan>DN</text>
<text x="301.5" y="416.3" font-size="7.8" fill="#2a2a2a" text-anchor="middle" textLength="64.5" lengthAdjust="spacingAndGlyphs" transform="rotate(-90 301.5 416.3)" stroke="#2a2a2a" stroke-width="0.12">Enrichment score (ES)</text>
<rect x="320.5" y="442" width="80" height="3.5" fill="url(#gcb)"/>
<rect x="365.83" y="431" width="0.8" height="11" fill="#222" fill-opacity="0.41"/>
<rect x="381.27" y="431" width="0.8" height="11" fill="#222" fill-opacity="0.5"/>
<rect x="376.23" y="431" width="0.8" height="11" fill="#222" fill-opacity="0.49"/>
<rect x="321.64" y="431" width="0.8" height="11" fill="#222" fill-opacity="0.3"/>
<rect x="395.09" y="431" width="0.8" height="11" fill="#222" fill-opacity="0.37"/>
<rect x="391.08" y="431" width="0.8" height="11" fill="#222" fill-opacity="0.15"/>
<rect x="352.75" y="431" width="0.8" height="11" fill="#222" fill-opacity="0.2"/>
<rect x="359.01" y="431" width="0.8" height="11" fill="#222" fill-opacity="0.34"/>
<rect x="320.94" y="431" width="0.8" height="11" fill="#222" fill-opacity="0.19"/>
<rect x="337.83" y="431" width="0.8" height="11" fill="#222" fill-opacity="0.48"/>
<rect x="378.57" y="431" width="0.8" height="11" fill="#222" fill-opacity="0.17"/>
<rect x="381.44" y="431" width="0.8" height="11" fill="#222" fill-opacity="0.16"/>
<rect x="365.36" y="431" width="0.8" height="11" fill="#222" fill-opacity="0.15"/>
<rect x="320.54" y="431" width="0.8" height="11" fill="#222" fill-opacity="0.47"/>
<rect x="332.76" y="431" width="0.8" height="11" fill="#222" fill-opacity="0.19"/>
<rect x="398.82" y="431" width="0.8" height="11" fill="#222" fill-opacity="0.47"/>
<rect x="338.56" y="431" width="0.8" height="11" fill="#222" fill-opacity="0.5"/>
<rect x="358.63" y="431" width="0.8" height="11" fill="#222" fill-opacity="0.38"/>
<rect x="332.43" y="431" width="0.8" height="11" fill="#222" fill-opacity="0.5"/>
<rect x="371.81" y="431" width="0.8" height="11" fill="#222" fill-opacity="0.51"/>
<rect x="390.41" y="431" width="0.8" height="11" fill="#222" fill-opacity="0.23"/>
<rect x="344.07" y="431" width="0.8" height="11" fill="#222" fill-opacity="0.17"/>
<rect x="328.43" y="431" width="0.8" height="11" fill="#222" fill-opacity="0.13"/>
<rect x="339.47" y="431" width="0.8" height="11" fill="#222" fill-opacity="0.35"/>
<rect x="320.59" y="431" width="0.8" height="11" fill="#222" fill-opacity="0.38"/>
<rect x="342.26" y="431" width="0.8" height="11" fill="#222" fill-opacity="0.23"/>
<rect x="383.41" y="431" width="0.8" height="11" fill="#222" fill-opacity="0.3"/>
<rect x="340.56" y="431" width="0.8" height="11" fill="#222" fill-opacity="0.3"/>
<rect x="373.06" y="431" width="0.8" height="11" fill="#222" fill-opacity="0.12"/>
<rect x="398.12" y="431" width="0.8" height="11" fill="#222" fill-opacity="0.11"/>
<rect x="377.13" y="431" width="0.8" height="11" fill="#222" fill-opacity="0.45"/>
<rect x="321.15" y="431" width="0.8" height="11" fill="#222" fill-opacity="0.43"/>
<rect x="344.46" y="431" width="0.8" height="11" fill="#222" fill-opacity="0.34"/>
<rect x="320.78" y="431" width="0.8" height="11" fill="#222" fill-opacity="0.12"/>
<rect x="330.78" y="431" width="0.8" height="11" fill="#222" fill-opacity="0.5"/>
<rect x="331.85" y="431" width="0.8" height="11" fill="#222" fill-opacity="0.42"/>
<rect x="393.8" y="431" width="0.8" height="11" fill="#222" fill-opacity="0.5"/>
<rect x="342.76" y="431" width="0.8" height="11" fill="#222" fill-opacity="0.25"/>
<rect x="357.4" y="431" width="0.8" height="11" fill="#222" fill-opacity="0.43"/>
<rect x="326.04" y="431" width="0.8" height="11" fill="#222" fill-opacity="0.41"/>
<rect x="381.45" y="431" width="0.8" height="11" fill="#222" fill-opacity="0.46"/>
<rect x="322.01" y="431" width="0.8" height="11" fill="#222" fill-opacity="0.5"/>
<rect x="325.02" y="431" width="0.8" height="11" fill="#222" fill-opacity="0.24"/>
<rect x="364.78" y="431" width="0.8" height="11" fill="#222" fill-opacity="0.49"/>
<rect x="342.42" y="431" width="0.8" height="11" fill="#222" fill-opacity="0.49"/>
<rect x="359.13" y="431" width="0.8" height="11" fill="#222" fill-opacity="0.23"/>
<rect x="340.64" y="431" width="0.8" height="11" fill="#222" fill-opacity="0.17"/>
<rect x="324.26" y="431" width="0.8" height="11" fill="#222" fill-opacity="0.16"/>
<rect x="371.68" y="431" width="0.8" height="11" fill="#222" fill-opacity="0.52"/>
<rect x="329.47" y="431" width="0.8" height="11" fill="#222" fill-opacity="0.12"/>
<rect x="399.22" y="431" width="0.8" height="11" fill="#222" fill-opacity="0.32"/>
<rect x="347.61" y="431" width="0.8" height="11" fill="#222" fill-opacity="0.2"/>
<rect x="363.32" y="431" width="0.8" height="11" fill="#222" fill-opacity="0.45"/>
<rect x="351.65" y="431" width="0.8" height="11" fill="#222" fill-opacity="0.28"/>
<rect x="323" y="431" width="0.8" height="11" fill="#222" fill-opacity="0.48"/>
<rect x="321.82" y="431" width="0.8" height="11" fill="#222" fill-opacity="0.31"/>
<rect x="385.25" y="431" width="0.8" height="11" fill="#222" fill-opacity="0.15"/>
<rect x="375.49" y="431" width="0.8" height="11" fill="#222" fill-opacity="0.5"/>
<rect x="366.49" y="431" width="0.8" height="11" fill="#222" fill-opacity="0.43"/>
<rect x="325.95" y="431" width="0.8" height="11" fill="#222" fill-opacity="0.28"/>
<rect x="328.66" y="431" width="0.8" height="11" fill="#222" fill-opacity="0.45"/>
<rect x="338.97" y="431" width="0.8" height="11" fill="#222" fill-opacity="0.29"/>
<rect x="400.43" y="431" width="0.8" height="11" fill="#222" fill-opacity="0.46"/>
<rect x="398.2" y="431" width="0.8" height="11" fill="#222" fill-opacity="0.29"/>
<rect x="354.33" y="431" width="0.8" height="11" fill="#222" fill-opacity="0.41"/>
<rect x="353.58" y="431" width="0.8" height="11" fill="#222" fill-opacity="0.22"/>
<rect x="347.44" y="431" width="0.8" height="11" fill="#222" fill-opacity="0.16"/>
<rect x="345.31" y="431" width="0.8" height="11" fill="#222" fill-opacity="0.52"/>
<rect x="396.66" y="431" width="0.8" height="11" fill="#222" fill-opacity="0.36"/>
<rect x="355.27" y="431" width="0.8" height="11" fill="#222" fill-opacity="0.24"/>
<rect x="324.9" y="431" width="0.8" height="11" fill="#222" fill-opacity="0.21"/>
<rect x="380.06" y="431" width="0.8" height="11" fill="#222" fill-opacity="0.46"/>
<rect x="344.08" y="431" width="0.8" height="11" fill="#222" fill-opacity="0.43"/>
<rect x="379.41" y="431" width="0.8" height="11" fill="#222" fill-opacity="0.39"/>
<rect x="369.44" y="431" width="0.8" height="11" fill="#222" fill-opacity="0.42"/>
<rect x="344.25" y="431" width="0.8" height="11" fill="#222" fill-opacity="0.4"/>
<rect x="337.93" y="431" width="0.8" height="11" fill="#222" fill-opacity="0.3"/>
<rect x="378.94" y="431" width="0.8" height="11" fill="#222" fill-opacity="0.39"/>
<rect x="338.9" y="431" width="0.8" height="11" fill="#222" fill-opacity="0.5"/>
<rect x="368.18" y="431" width="0.8" height="11" fill="#222" fill-opacity="0.34"/>
<rect x="320.88" y="431" width="0.8" height="11" fill="#222" fill-opacity="0.33"/>
<rect x="335.71" y="431" width="0.8" height="11" fill="#222" fill-opacity="0.38"/>
<rect x="352.25" y="431" width="0.8" height="11" fill="#222" fill-opacity="0.44"/>
<rect x="367.98" y="431" width="0.8" height="11" fill="#222" fill-opacity="0.44"/>
<rect x="343.03" y="431" width="0.8" height="11" fill="#222" fill-opacity="0.37"/>
<rect x="376.04" y="431" width="0.8" height="11" fill="#222" fill-opacity="0.45"/>
<rect x="343.2" y="431" width="0.8" height="11" fill="#222" fill-opacity="0.45"/>
<rect x="388.18" y="431" width="0.8" height="11" fill="#222" fill-opacity="0.39"/>
<rect x="398.21" y="431" width="0.8" height="11" fill="#222" fill-opacity="0.5"/>
<rect x="356.84" y="431" width="0.8" height="11" fill="#222" fill-opacity="0.32"/>
<rect x="329.78" y="431" width="0.8" height="11" fill="#222" fill-opacity="0.45"/>
<rect x="394.53" y="431" width="0.8" height="11" fill="#222" fill-opacity="0.3"/>
<rect x="371.88" y="431" width="0.8" height="11" fill="#222" fill-opacity="0.4"/>
<rect x="375.37" y="431" width="0.8" height="11" fill="#222" fill-opacity="0.17"/>
<rect x="379.91" y="431" width="0.8" height="11" fill="#222" fill-opacity="0.34"/>
<rect x="369.58" y="431" width="0.8" height="11" fill="#222" fill-opacity="0.28"/>
<rect x="365.9" y="431" width="0.8" height="11" fill="#222" fill-opacity="0.43"/>
<rect x="367.05" y="431" width="0.8" height="11" fill="#222" fill-opacity="0.4"/>
<rect x="321.58" y="431" width="0.8" height="11" fill="#222" fill-opacity="0.17"/>
<rect x="350.46" y="431" width="0.8" height="11" fill="#222" fill-opacity="0.37"/>
<rect x="333.43" y="431" width="0.8" height="11" fill="#222" fill-opacity="0.39"/>
<rect x="366.53" y="431" width="0.8" height="11" fill="#222" fill-opacity="0.12"/>
<rect x="352.96" y="431" width="0.8" height="11" fill="#222" fill-opacity="0.2"/>
<rect x="322.92" y="431" width="0.8" height="11" fill="#222" fill-opacity="0.16"/>
<rect x="340.68" y="431" width="0.8" height="11" fill="#222" fill-opacity="0.18"/>
<rect x="331.64" y="431" width="0.8" height="11" fill="#222" fill-opacity="0.11"/>
<rect x="352.45" y="431" width="0.8" height="11" fill="#222" fill-opacity="0.26"/>
<rect x="364.86" y="431" width="0.8" height="11" fill="#222" fill-opacity="0.35"/>
<rect x="334.78" y="431" width="0.8" height="11" fill="#222" fill-opacity="0.48"/>
<rect x="320.51" y="431" width="0.8" height="11" fill="#222" fill-opacity="0.27"/>
<rect x="337.76" y="431" width="0.8" height="11" fill="#222" fill-opacity="0.27"/>
<rect x="326.47" y="431" width="0.8" height="11" fill="#222" fill-opacity="0.45"/>
<rect x="345.07" y="431" width="0.8" height="11" fill="#222" fill-opacity="0.12"/>
<rect x="365.02" y="431" width="0.8" height="11" fill="#222" fill-opacity="0.14"/>
<rect x="359.13" y="431" width="0.8" height="11" fill="#222" fill-opacity="0.24"/>
<polyline points="320.5,410 325.3,403.8 329.3,401.3 335.7,397.3 344.5,398 352.5,400 364.5,406 376.5,413.5 388.5,421.5 396.5,427.5 400.5,426.3" fill="none" stroke="#66bd86" stroke-width="1.0" stroke-linejoin="round"/>
<line x1="320.5" y1="426.3" x2="400.5" y2="426.3" stroke="#bbb" stroke-width="0.4" stroke-dasharray="1 1"/>
<rect x="320.5" y="394.5" width="80" height="51" fill="none" stroke="#111" stroke-width="0.9"/>
<line x1="317.5" y1="398.8" x2="320.5" y2="398.8" stroke="#222" stroke-width="0.7"/>
<text x="314.1" y="400.65" font-size="5.2" fill="#2a2a2a" text-anchor="end" stroke="#2a2a2a" stroke-width="0.12">0.5</text>
<line x1="317.5" y1="404.3" x2="320.5" y2="404.3" stroke="#222" stroke-width="0.7"/>
<text x="314.1" y="406.15" font-size="5.2" fill="#2a2a2a" text-anchor="end" stroke="#2a2a2a" stroke-width="0.12">0.4</text>
<line x1="317.5" y1="409.8" x2="320.5" y2="409.8" stroke="#222" stroke-width="0.7"/>
<text x="314.1" y="411.65" font-size="5.2" fill="#2a2a2a" text-anchor="end" stroke="#2a2a2a" stroke-width="0.12">0.3</text>
<line x1="317.5" y1="415.3" x2="320.5" y2="415.3" stroke="#222" stroke-width="0.7"/>
<text x="314.1" y="417.15" font-size="5.2" fill="#2a2a2a" text-anchor="end" stroke="#2a2a2a" stroke-width="0.12">0.2</text>
<line x1="317.5" y1="420.8" x2="320.5" y2="420.8" stroke="#222" stroke-width="0.7"/>
<text x="314.1" y="422.65" font-size="5.2" fill="#2a2a2a" text-anchor="end" stroke="#2a2a2a" stroke-width="0.12">0.1</text>
<line x1="317.5" y1="426.3" x2="320.5" y2="426.3" stroke="#222" stroke-width="0.7"/>
<text x="314.1" y="428.15" font-size="5.2" fill="#2a2a2a" text-anchor="end" stroke="#2a2a2a" stroke-width="0.12">0.0</text>
<text x="323" y="419.9" font-size="5.4" fill="#2a2a2a" stroke="#2a2a2a" stroke-width="0.12">NES:1.73</text>
<text x="323" y="426.9" font-size="5.4" fill="#2a2a2a" stroke="#2a2a2a" stroke-width="0.12">FDRq:0.072</text>
<text x="321.9" y="453.2" font-size="6.6" fill="#3a3040" stroke="#3a3040" stroke-width="0.12">dKO</text>
<text x="396.3" y="453.2" font-size="6.6" fill="#3a66a8" text-anchor="end" textLength="34.6" lengthAdjust="spacingAndGlyphs" stroke="#3a66a8" stroke-width="0.12">&#946;-cateninKO</text>
<text x="467.8" y="373.8" font-size="8.7" fill="#2a2a2a" text-anchor="middle" textLength="87.1" lengthAdjust="spacingAndGlyphs" stroke="#2a2a2a" stroke-width="0.12">WP<tspan dy="-1.1">_</tspan><tspan dy="1.1">​</tspan>Pluripotent<tspan dy="-1.1">_</tspan><tspan dy="1.1">​</tspan>Stem<tspan dy="-1.1">_</tspan><tspan dy="1.1">​</tspan></text>
<text x="467.8" y="382" font-size="8.7" fill="#2a2a2a" text-anchor="middle" textLength="73.1" lengthAdjust="spacingAndGlyphs" stroke="#2a2a2a" stroke-width="0.12">Cell<tspan dy="-1.1">_</tspan><tspan dy="1.1">​</tspan>Differentiation</text>
<text x="467.8" y="389.7" font-size="8.7" fill="#2a2a2a" text-anchor="middle" textLength="31.1" lengthAdjust="spacingAndGlyphs" stroke="#2a2a2a" stroke-width="0.12">Pathway</text>
<text x="411.5" y="416.3" font-size="7.8" fill="#2a2a2a" text-anchor="middle" textLength="64.5" lengthAdjust="spacingAndGlyphs" transform="rotate(-90 411.5 416.3)" stroke="#2a2a2a" stroke-width="0.12">Enrichment score (ES)</text>
<rect x="429.5" y="442" width="83" height="3.5" fill="url(#gcb)"/>
<rect x="431.99" y="431" width="0.8" height="11" fill="#222" fill-opacity="0.35"/>
<rect x="434.48" y="431" width="0.8" height="11" fill="#222" fill-opacity="0.3"/>
<rect x="437.8" y="431" width="0.8" height="11" fill="#222" fill-opacity="0.35"/>
<rect x="441.12" y="431" width="0.8" height="11" fill="#222" fill-opacity="0.3"/>
<rect x="444.44" y="431" width="0.8" height="11" fill="#222" fill-opacity="0.35"/>
<rect x="449.42" y="431" width="0.8" height="11" fill="#222" fill-opacity="0.4"/>
<rect x="451.91" y="431" width="0.8" height="11" fill="#222" fill-opacity="0.35"/>
<rect x="479.3" y="431" width="0.8" height="11" fill="#222" fill-opacity="0.3"/>
<rect x="489.26" y="431" width="0.8" height="11" fill="#222" fill-opacity="0.35"/>
<rect x="500.05" y="431" width="0.8" height="11" fill="#222" fill-opacity="0.35"/>
<rect x="502.54" y="431" width="0.8" height="11" fill="#222" fill-opacity="0.3"/>
<rect x="505.86" y="431" width="0.8" height="11" fill="#222" fill-opacity="0.35"/>
<polyline points="429.5,402.5 431.99,398.3 436.14,397.6 441.12,398.7 446.1,397.8 450.25,398.5 462.7,403.5 479.3,411.5 497.56,420.5 502.54,426.3 505.86,427.5 510.01,427 512.5,427.8" fill="none" stroke="#66bd86" stroke-width="1.0" stroke-linejoin="round"/>
<line x1="429.5" y1="426.3" x2="512.5" y2="426.3" stroke="#bbb" stroke-width="0.4" stroke-dasharray="1 1"/>
<rect x="429.5" y="394.5" width="83" height="51" fill="none" stroke="#111" stroke-width="0.9"/>
<line x1="426.5" y1="399.3" x2="429.5" y2="399.3" stroke="#222" stroke-width="0.7"/>
<text x="423.1" y="401.15" font-size="5.2" fill="#2a2a2a" text-anchor="end" stroke="#2a2a2a" stroke-width="0.12">0.6</text>
<line x1="426.5" y1="408.3" x2="429.5" y2="408.3" stroke="#222" stroke-width="0.7"/>
<text x="423.1" y="410.15" font-size="5.2" fill="#2a2a2a" text-anchor="end" stroke="#2a2a2a" stroke-width="0.12">0.4</text>
<line x1="426.5" y1="417.3" x2="429.5" y2="417.3" stroke="#222" stroke-width="0.7"/>
<text x="423.1" y="419.15" font-size="5.2" fill="#2a2a2a" text-anchor="end" stroke="#2a2a2a" stroke-width="0.12">0.2</text>
<line x1="426.5" y1="426.3" x2="429.5" y2="426.3" stroke="#222" stroke-width="0.7"/>
<text x="423.1" y="428.15" font-size="5.2" fill="#2a2a2a" text-anchor="end" stroke="#2a2a2a" stroke-width="0.12">0.0</text>
<text x="432" y="418.9" font-size="5.4" fill="#2a2a2a" stroke="#2a2a2a" stroke-width="0.12">NES:1.5</text>
<text x="432" y="424.9" font-size="5.4" fill="#2a2a2a" stroke="#2a2a2a" stroke-width="0.12">FDRq:0.24</text>
<text x="430.9" y="453.2" font-size="6.6" fill="#3a3040" stroke="#3a3040" stroke-width="0.12">dKO</text>
<text x="507.5" y="453.2" font-size="6.6" fill="#3a66a8" text-anchor="end" textLength="34.6" lengthAdjust="spacingAndGlyphs" stroke="#3a66a8" stroke-width="0.12">&#946;-cateninKO</text>
<text x="6.8" y="516.2" font-size="11" fill="#111" font-weight="bold">F</text>
<text x="80.5" y="520.5" font-size="8.8" fill="#2a2a2a" textLength="142" lengthAdjust="spacingAndGlyphs" stroke="#2a2a2a" stroke-width="0.12">Commonly regulated genes (n = 187)</text>
<line x1="151.8" y1="537.6" x2="218.2" y2="537.6" stroke="#222" stroke-width="0.9"/>
<line x1="151.8" y1="537.6" x2="151.8" y2="571" stroke="#222" stroke-width="0.9"/>
<line x1="151.4" y1="535.8" x2="151.4" y2="537.6" stroke="#222" stroke-width="0.6"/>
<text x="151.4" y="530.7" font-size="6.7" fill="#2a2a2a" text-anchor="middle" stroke="#2a2a2a" stroke-width="0.12">0</text>
<line x1="164.5" y1="535.8" x2="164.5" y2="537.6" stroke="#222" stroke-width="0.6"/>
<text x="164.5" y="530.7" font-size="6.7" fill="#2a2a2a" text-anchor="middle" stroke="#2a2a2a" stroke-width="0.12">2</text>
<line x1="177.5" y1="535.8" x2="177.5" y2="537.6" stroke="#222" stroke-width="0.6"/>
<text x="177.5" y="530.7" font-size="6.7" fill="#2a2a2a" text-anchor="middle" stroke="#2a2a2a" stroke-width="0.12">4</text>
<line x1="190.5" y1="535.8" x2="190.5" y2="537.6" stroke="#222" stroke-width="0.6"/>
<text x="190.5" y="530.7" font-size="6.7" fill="#2a2a2a" text-anchor="middle" stroke="#2a2a2a" stroke-width="0.12">6</text>
<line x1="203.3" y1="535.8" x2="203.3" y2="537.6" stroke="#222" stroke-width="0.6"/>
<text x="203.3" y="530.7" font-size="6.7" fill="#2a2a2a" text-anchor="middle" stroke="#2a2a2a" stroke-width="0.12">8</text>
<line x1="216.2" y1="535.8" x2="216.2" y2="537.6" stroke="#222" stroke-width="0.6"/>
<text x="216.2" y="530.7" font-size="6.7" fill="#2a2a2a" text-anchor="middle" stroke="#2a2a2a" stroke-width="0.12">10</text>
<rect x="151.8" y="540.95" width="65.7" height="2.9" fill="#3a9ad6"/>
<line x1="149.6" y1="542.4" x2="151.8" y2="542.4" stroke="#222" stroke-width="0.6"/>
<rect x="151.8" y="549.45" width="63.5" height="2.9" fill="#3a9ad6"/>
<line x1="149.6" y1="550.9" x2="151.8" y2="550.9" stroke="#222" stroke-width="0.6"/>
<rect x="151.8" y="558.05" width="48.7" height="2.9" fill="#3a9ad6"/>
<line x1="149.6" y1="559.5" x2="151.8" y2="559.5" stroke="#222" stroke-width="0.6"/>
<rect x="151.8" y="566.65" width="47" height="2.9" fill="#3a9ad6"/>
<line x1="149.6" y1="568.1" x2="151.8" y2="568.1" stroke="#222" stroke-width="0.6"/>
<text x="145.3" y="544.6" font-size="6.4" fill="#2a2a2a" text-anchor="end" textLength="128.7" lengthAdjust="spacingAndGlyphs" stroke="#2a2a2a" stroke-width="0.12">Abnormal haematopoietic system physiology</text>
<text x="145.3" y="553.1" font-size="6.4" fill="#2a2a2a" text-anchor="end" textLength="90.9" lengthAdjust="spacingAndGlyphs" stroke="#2a2a2a" stroke-width="0.12">Abnormal blood cell physiology</text>
<text x="145.3" y="561.7" font-size="6.4" fill="#2a2a2a" text-anchor="end" textLength="89.7" lengthAdjust="spacingAndGlyphs" stroke="#2a2a2a" stroke-width="0.12">Abnormal leukocyte physiology</text>
<text x="145.3" y="570.3" font-size="6.4" fill="#2a2a2a" text-anchor="end" textLength="96.6" lengthAdjust="spacingAndGlyphs" stroke="#2a2a2a" stroke-width="0.12">Abnormal immune cell physiology</text>
<text x="77.8" y="580" font-size="6.4" fill="#111" font-weight="bold" textLength="54.8" lengthAdjust="spacingAndGlyphs">Mouse phenotype</text>
<line x1="151.8" y1="601.3" x2="217.5" y2="601.3" stroke="#222" stroke-width="0.9"/>
<line x1="151.8" y1="601.3" x2="151.8" y2="640" stroke="#222" stroke-width="0.9"/>
<line x1="151.3" y1="599.5" x2="151.3" y2="601.3" stroke="#222" stroke-width="0.6"/>
<text x="151.3" y="594.9" font-size="6.7" fill="#2a2a2a" text-anchor="middle" stroke="#2a2a2a" stroke-width="0.12">0</text>
<line x1="163.8" y1="599.5" x2="163.8" y2="601.3" stroke="#222" stroke-width="0.6"/>
<text x="163.8" y="594.9" font-size="6.7" fill="#2a2a2a" text-anchor="middle" stroke="#2a2a2a" stroke-width="0.12">1</text>
<line x1="176.5" y1="599.5" x2="176.5" y2="601.3" stroke="#222" stroke-width="0.6"/>
<text x="176.5" y="594.9" font-size="6.7" fill="#2a2a2a" text-anchor="middle" stroke="#2a2a2a" stroke-width="0.12">2</text>
<line x1="189.5" y1="599.5" x2="189.5" y2="601.3" stroke="#222" stroke-width="0.6"/>
<text x="189.5" y="594.9" font-size="6.7" fill="#2a2a2a" text-anchor="middle" stroke="#2a2a2a" stroke-width="0.12">3</text>
<line x1="202" y1="599.5" x2="202" y2="601.3" stroke="#222" stroke-width="0.6"/>
<text x="202" y="594.9" font-size="6.7" fill="#2a2a2a" text-anchor="middle" stroke="#2a2a2a" stroke-width="0.12">4</text>
<line x1="214.5" y1="599.5" x2="214.5" y2="601.3" stroke="#222" stroke-width="0.6"/>
<text x="214.5" y="594.9" font-size="6.7" fill="#2a2a2a" text-anchor="middle" stroke="#2a2a2a" stroke-width="0.12">5</text>
<rect x="151.8" y="603.85" width="65.2" height="2.9" fill="#3a9ad6"/>
<line x1="149.6" y1="605.3" x2="151.8" y2="605.3" stroke="#222" stroke-width="0.6"/>
<rect x="151.8" y="611.65" width="31.2" height="2.9" fill="#3a9ad6"/>
<line x1="149.6" y1="613.1" x2="151.8" y2="613.1" stroke="#222" stroke-width="0.6"/>
<rect x="151.8" y="619.35" width="25.2" height="2.9" fill="#3a9ad6"/>
<line x1="149.6" y1="620.8" x2="151.8" y2="620.8" stroke="#222" stroke-width="0.6"/>
<rect x="151.8" y="627.15" width="25.2" height="2.9" fill="#3a9ad6"/>
<line x1="149.6" y1="628.6" x2="151.8" y2="628.6" stroke="#222" stroke-width="0.6"/>
<rect x="151.8" y="635.15" width="23.2" height="2.9" fill="#3a9ad6"/>
<line x1="149.6" y1="636.6" x2="151.8" y2="636.6" stroke="#222" stroke-width="0.6"/>
<text x="145.3" y="607.5" font-size="6.4" fill="#2a2a2a" text-anchor="end" textLength="78.8" lengthAdjust="spacingAndGlyphs" stroke="#2a2a2a" stroke-width="0.12">Haematopoietic cell lineage</text>
<text x="145.3" y="615.3" font-size="6.4" fill="#2a2a2a" text-anchor="end" textLength="112.5" lengthAdjust="spacingAndGlyphs" stroke="#2a2a2a" stroke-width="0.12">Cell surface interactions at vascular wall</text>
<text x="145.3" y="623" font-size="6.4" fill="#2a2a2a" text-anchor="end" textLength="67.2" lengthAdjust="spacingAndGlyphs" stroke="#2a2a2a" stroke-width="0.12">Il-18 signaling pathway</text>
<text x="145.3" y="630.8" font-size="6.4" fill="#2a2a2a" text-anchor="end" textLength="86" lengthAdjust="spacingAndGlyphs" stroke="#2a2a2a" stroke-width="0.12">SARS-CoV-2 immunity evasion</text>
<text x="145.3" y="638.8" font-size="6.4" fill="#2a2a2a" text-anchor="end" stroke="#2a2a2a" stroke-width="0.12">Hemostasis</text>
<text x="92.8" y="648" font-size="6.4" fill="#111" font-weight="bold" textLength="24.8" lengthAdjust="spacingAndGlyphs">Pathway</text>
<text x="163.8" y="644.3" font-size="5.2" fill="#2a2a2a" stroke="#2a2a2a" stroke-width="0.12">&#8722;log<tspan font-size="3.4" dy="1.4">10</tspan><tspan dy="-1.4"> Bonferroni pval</tspan></text>
<text x="335" y="520.5" font-size="8.8" fill="#2a2a2a" textLength="160.8" lengthAdjust="spacingAndGlyphs" stroke="#2a2a2a" stroke-width="0.12">dKO exclusively regulated genes (n = 877)</text>
<line x1="422.2" y1="537.8" x2="495.1" y2="537.8" stroke="#222" stroke-width="0.9"/>
<line x1="422.2" y1="537.8" x2="422.2" y2="571" stroke="#222" stroke-width="0.9"/>
<line x1="421.9" y1="536" x2="421.9" y2="537.8" stroke="#222" stroke-width="0.6"/>
<text x="421.9" y="530.9" font-size="6.7" fill="#2a2a2a" text-anchor="middle" stroke="#2a2a2a" stroke-width="0.12">0</text>
<line x1="437.4" y1="536" x2="437.4" y2="537.8" stroke="#222" stroke-width="0.6"/>
<text x="437.4" y="530.9" font-size="6.7" fill="#2a2a2a" text-anchor="middle" stroke="#2a2a2a" stroke-width="0.12">2</text>
<line x1="452.6" y1="536" x2="452.6" y2="537.8" stroke="#222" stroke-width="0.6"/>
<text x="452.6" y="530.9" font-size="6.7" fill="#2a2a2a" text-anchor="middle" stroke="#2a2a2a" stroke-width="0.12">4</text>
<line x1="468.1" y1="536" x2="468.1" y2="537.8" stroke="#222" stroke-width="0.6"/>
<text x="468.1" y="530.9" font-size="6.7" fill="#2a2a2a" text-anchor="middle" stroke="#2a2a2a" stroke-width="0.12">6</text>
<line x1="483.5" y1="536" x2="483.5" y2="537.8" stroke="#222" stroke-width="0.6"/>
<text x="483.5" y="530.9" font-size="6.7" fill="#2a2a2a" text-anchor="middle" stroke="#2a2a2a" stroke-width="0.12">8</text>
<rect x="422.2" y="540.95" width="71.3" height="2.9" fill="#3a9ad6"/>
<line x1="420" y1="542.4" x2="422.2" y2="542.4" stroke="#222" stroke-width="0.6"/>
<rect x="422.2" y="549.55" width="31.6" height="2.9" fill="#3a9ad6"/>
<line x1="420" y1="551" x2="422.2" y2="551" stroke="#222" stroke-width="0.6"/>
<rect x="422.2" y="558.25" width="30" height="2.9" fill="#3a9ad6"/>
<line x1="420" y1="559.7" x2="422.2" y2="559.7" stroke="#222" stroke-width="0.6"/>
<rect x="422.2" y="566.65" width="27.6" height="2.9" fill="#3a9ad6"/>
<line x1="420" y1="568.1" x2="422.2" y2="568.1" stroke="#222" stroke-width="0.6"/>
<text x="416.2" y="539.7" font-size="6.4" fill="#2a2a2a" text-anchor="end" textLength="62.7" lengthAdjust="spacingAndGlyphs" stroke="#2a2a2a" stroke-width="0.12">Abnormal cell nucleus</text>
<text x="416.2" y="546" font-size="6.4" fill="#2a2a2a" text-anchor="end" textLength="35.2" lengthAdjust="spacingAndGlyphs" stroke="#2a2a2a" stroke-width="0.12">morphology</text>
<text x="416.2" y="553.1" font-size="6.4" fill="#2a2a2a" text-anchor="end" textLength="55.6" lengthAdjust="spacingAndGlyphs" stroke="#2a2a2a" stroke-width="0.12">Abnormal cell cycle</text>
<text x="416.2" y="561.9" font-size="6.4" fill="#2a2a2a" text-anchor="end" textLength="49.4" lengthAdjust="spacingAndGlyphs" stroke="#2a2a2a" stroke-width="0.12">Abnormal mitosis</text>
<text x="416.2" y="570.5" font-size="6.4" fill="#2a2a2a" text-anchor="end" textLength="67" lengthAdjust="spacingAndGlyphs" stroke="#2a2a2a" stroke-width="0.12">Abnormal chromosome</text>
<text x="416.2" y="578.5" font-size="6.4" fill="#2a2a2a" text-anchor="end" textLength="21.2" lengthAdjust="spacingAndGlyphs" stroke="#2a2a2a" stroke-width="0.12">number</text>
<line x1="422.2" y1="601.9" x2="488.9" y2="601.9" stroke="#222" stroke-width="0.9"/>
<line x1="422.2" y1="601.9" x2="422.2" y2="658.5" stroke="#222" stroke-width="0.9"/>
<line x1="421.9" y1="600.1" x2="421.9" y2="601.9" stroke="#222" stroke-width="0.6"/>
<text x="421.9" y="595.8" font-size="6.7" fill="#2a2a2a" text-anchor="middle" stroke="#2a2a2a" stroke-width="0.12">0</text>
<line x1="432.8" y1="600.1" x2="432.8" y2="601.9" stroke="#222" stroke-width="0.6"/>
<text x="432.8" y="595.8" font-size="6.7" fill="#2a2a2a" text-anchor="middle" stroke="#2a2a2a" stroke-width="0.12">5</text>
<line x1="443.8" y1="600.1" x2="443.8" y2="601.9" stroke="#222" stroke-width="0.6"/>
<text x="443.8" y="595.8" font-size="6.7" fill="#2a2a2a" text-anchor="middle" stroke="#2a2a2a" stroke-width="0.12">10</text>
<line x1="454.7" y1="600.1" x2="454.7" y2="601.9" stroke="#222" stroke-width="0.6"/>
<text x="454.7" y="595.8" font-size="6.7" fill="#2a2a2a" text-anchor="middle" stroke="#2a2a2a" stroke-width="0.12">15</text>
<line x1="465.8" y1="600.1" x2="465.8" y2="601.9" stroke="#222" stroke-width="0.6"/>
<text x="465.8" y="595.8" font-size="6.7" fill="#2a2a2a" text-anchor="middle" stroke="#2a2a2a" stroke-width="0.12">20</text>
<line x1="476.2" y1="600.1" x2="476.2" y2="601.9" stroke="#222" stroke-width="0.6"/>
<text x="476.2" y="595.8" font-size="6.7" fill="#2a2a2a" text-anchor="middle" stroke="#2a2a2a" stroke-width="0.12">25</text>
<line x1="486.5" y1="600.1" x2="486.5" y2="601.9" stroke="#222" stroke-width="0.6"/>
<text x="486.5" y="595.8" font-size="6.7" fill="#2a2a2a" text-anchor="middle" stroke="#2a2a2a" stroke-width="0.12">30</text>
<rect x="422.2" y="604.15" width="63.6" height="2.9" fill="#3a9ad6"/>
<line x1="420" y1="605.6" x2="422.2" y2="605.6" stroke="#222" stroke-width="0.6"/>
<rect x="422.2" y="611.35" width="57.4" height="2.9" fill="#3a9ad6"/>
<line x1="420" y1="612.8" x2="422.2" y2="612.8" stroke="#222" stroke-width="0.6"/>
<rect x="422.2" y="618.45" width="40.1" height="2.9" fill="#3a9ad6"/>
<line x1="420" y1="619.9" x2="422.2" y2="619.9" stroke="#222" stroke-width="0.6"/>
<rect x="422.2" y="625.55" width="32.5" height="2.9" fill="#3a9ad6"/>
<line x1="420" y1="627" x2="422.2" y2="627" stroke="#222" stroke-width="0.6"/>
<rect x="422.2" y="632.65" width="22.1" height="2.9" fill="#3a9ad6"/>
<line x1="420" y1="634.1" x2="422.2" y2="634.1" stroke="#222" stroke-width="0.6"/>
<rect x="422.2" y="639.75" width="12" height="2.9" fill="#3a9ad6"/>
<line x1="420" y1="641.2" x2="422.2" y2="641.2" stroke="#222" stroke-width="0.6"/>
<rect x="422.2" y="646.75" width="9.4" height="2.9" fill="#3a9ad6"/>
<line x1="420" y1="648.2" x2="422.2" y2="648.2" stroke="#222" stroke-width="0.6"/>
<rect x="422.2" y="653.85" width="5.5" height="2.9" fill="#3a9ad6"/>
<line x1="420" y1="655.3" x2="422.2" y2="655.3" stroke="#222" stroke-width="0.6"/>
<text x="415.6" y="608.4" font-size="6.4" fill="#2a2a2a" text-anchor="end" textLength="26.2" lengthAdjust="spacingAndGlyphs" stroke="#2a2a2a" stroke-width="0.12">Cell cycle</text>
<text x="415.6" y="615.3" font-size="6.4" fill="#2a2a2a" text-anchor="end" textLength="50" lengthAdjust="spacingAndGlyphs" stroke="#2a2a2a" stroke-width="0.12">Cell cycle, mitotic</text>
<text x="415.6" y="622.5" font-size="6.4" fill="#2a2a2a" text-anchor="end" textLength="112" lengthAdjust="spacingAndGlyphs" stroke="#2a2a2a" stroke-width="0.12">Resolution of sister chromatid cohesion</text>
<text x="415.6" y="629.6" font-size="6.4" fill="#2a2a2a" text-anchor="end" textLength="63.1" lengthAdjust="spacingAndGlyphs" stroke="#2a2a2a" stroke-width="0.12">PLK1 signalling events</text>
<text x="415.6" y="636.5" font-size="6.4" fill="#2a2a2a" text-anchor="end" textLength="53.1" lengthAdjust="spacingAndGlyphs" stroke="#2a2a2a" stroke-width="0.12">Aurora B signalling</text>
<text x="415.6" y="643.7" font-size="6.4" fill="#2a2a2a" text-anchor="end" textLength="117.5" lengthAdjust="spacingAndGlyphs" stroke="#2a2a2a" stroke-width="0.12">HDR through homologous recombination</text>
<text x="415.6" y="650.7" font-size="6.4" fill="#2a2a2a" text-anchor="end" textLength="45.4" lengthAdjust="spacingAndGlyphs" stroke="#2a2a2a" stroke-width="0.12">DNA replication</text>
<text x="415.6" y="657.7" font-size="6.4" fill="#2a2a2a" text-anchor="end" textLength="92" lengthAdjust="spacingAndGlyphs" stroke="#2a2a2a" stroke-width="0.12">DNA double-strand break repair</text>
<text x="434.6" y="657.2" font-size="5.2" fill="#2a2a2a" stroke="#2a2a2a" stroke-width="0.12">&#8722;log<tspan font-size="3.4" dy="1.4">10</tspan><tspan dy="-1.4"> Bonferroni pval</tspan></text>
<defs><clipPath id="cg"><ellipse cx="247.0" cy="573.4" rx="26.0" ry="23.2"/></clipPath></defs>
<ellipse cx="247.0" cy="573.4" rx="26.0" ry="23.2" fill="#b0d69a"/>
<ellipse cx="271.8" cy="573.4" rx="26.0" ry="23.2" fill="#9aa4cc"/>
<ellipse cx="271.8" cy="573.4" rx="26.0" ry="23.2" fill="#5a9498" clip-path="url(#cg)"/>
<ellipse cx="259.1" cy="596.0" rx="25.8" ry="22.9" fill="#bdbdbd" fill-opacity="0.53"/>
<ellipse cx="247.0" cy="573.4" rx="26.0" ry="23.2" fill="none" stroke="#2a2a2a" stroke-width="0.8"/>
<ellipse cx="271.8" cy="573.4" rx="26.0" ry="23.2" fill="none" stroke="#2a2a2a" stroke-width="0.8"/>
<ellipse cx="259.1" cy="596.0" rx="25.8" ry="22.9" fill="none" stroke="#2a2a2a" stroke-width="0.8"/>
<ellipse cx="259.3" cy="580.8" rx="10.1" ry="8.3" fill="none" stroke="#c0203f" stroke-width="1.4"/>
<ellipse cx="259.3" cy="600.3" rx="10.1" ry="7.6" fill="none" stroke="#c0203f" stroke-width="1.4"/>
<line x1="249.2" y1="580.8" x2="218.8" y2="580.8" stroke="#c0203f" stroke-width="1.1"/>
<path d="M215.5 580.8L219.1 578.9L219.1 582.7Z" fill="#c0203f"/>
<line x1="269.4" y1="600.5" x2="293.9" y2="600.5" stroke="#c0203f" stroke-width="1.1"/>
<path d="M297.2 600.5L293.6 602.4L293.6 598.6Z" fill="#c0203f"/>
<text x="224.5" y="568.3" font-size="6.6" fill="#333" textLength="18.8" lengthAdjust="spacingAndGlyphs" stroke="#333" stroke-width="0.12">Hoxa9<tspan font-size="3.8" dy="-2.6">-/-</tspan></text>
<text x="236.4" y="575.6" font-size="6.8" fill="#333" text-anchor="middle" stroke="#333" stroke-width="0.12">71</text>
<text x="260.6" y="568.6" font-size="6.8" fill="#333" text-anchor="middle" stroke="#333" stroke-width="0.12">39</text>
<text x="272.4" y="567.6" font-size="6.6" fill="#333" textLength="16" lengthAdjust="spacingAndGlyphs" stroke="#333" stroke-width="0.12">&#946;-cat<tspan font-size="3.8" dy="-2.6">-/-</tspan></text>
<text x="285" y="576.2" font-size="6.8" fill="#333" text-anchor="middle" stroke="#333" stroke-width="0.12">1090</text>
<text x="259.5" y="583.7" font-size="6.8" fill="#333" text-anchor="middle" stroke="#333" stroke-width="0.12">187</text>
<text x="243.8" y="591.7" font-size="6.8" fill="#333" text-anchor="middle" stroke="#333" stroke-width="0.12">464</text>
<text x="274.1" y="591.7" font-size="6.8" fill="#333" text-anchor="middle" stroke="#333" stroke-width="0.12">177</text>
<text x="259.5" y="603.6" font-size="6.8" fill="#333" text-anchor="middle" stroke="#333" stroke-width="0.12">877</text>
<text x="259.5" y="615.3" font-size="6.8" fill="#333" text-anchor="middle" stroke="#333" stroke-width="0.12">dKO</text>
<rect x="0" y="0" width="520" height="1" fill="#5c5c5c"/>
<rect x="0" y="0" width="1" height="666" fill="#5a5a5a"/>
<rect x="519" y="0" width="1" height="666" fill="#4c4c4c"/>
<rect x="0" y="665" width="520" height="1" fill="#4c4c4c"/>
</svg>
</body></html>
